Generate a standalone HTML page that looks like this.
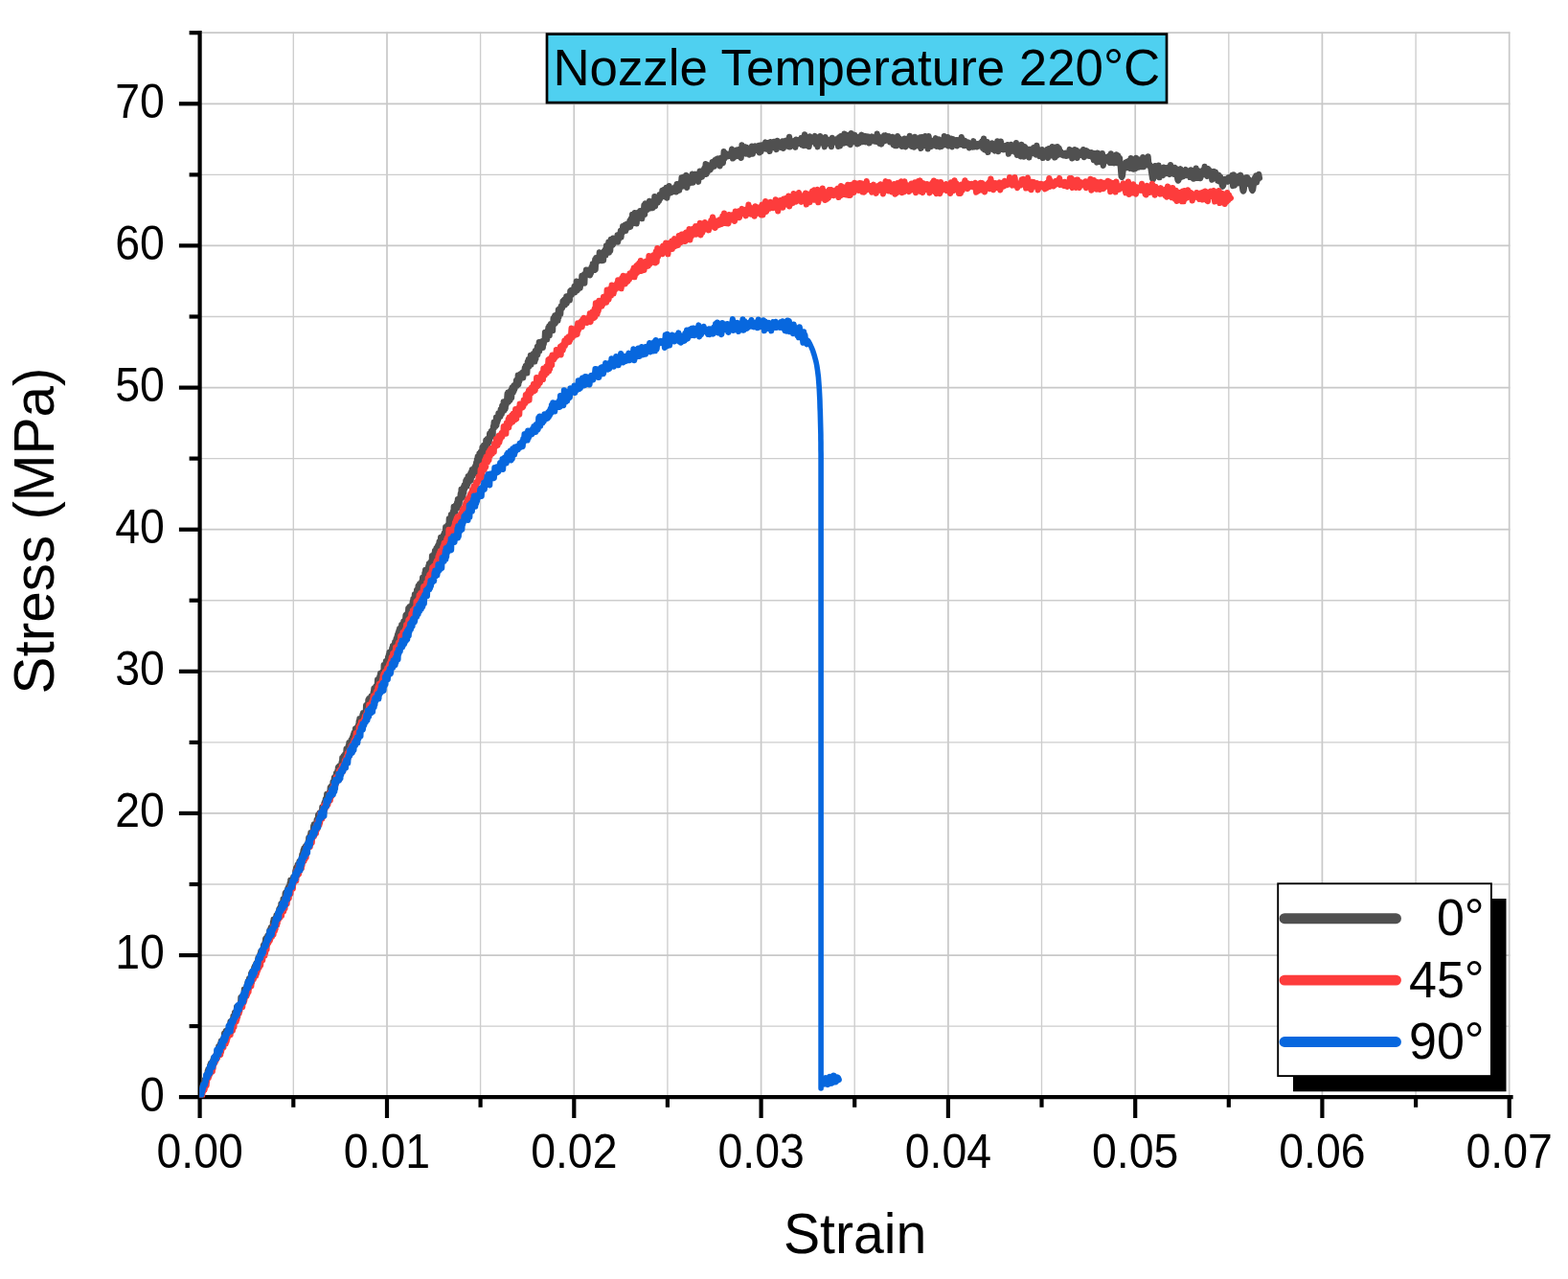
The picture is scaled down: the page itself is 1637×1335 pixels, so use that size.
<!DOCTYPE html>
<html lang="en"><head><meta charset="utf-8"><title>Stress-Strain: Nozzle Temperature 220°C</title>
<style>html,body{margin:0;padding:0;background:#fff;overflow:hidden}svg{display:block}</style></head>
<body>
<svg width="1637" height="1335" viewBox="0 0 1637 1335" role="img" aria-label="Stress-strain curves at nozzle temperature 220°C" font-family="'Liberation Sans', sans-serif" fill="#000">
<rect width="1637" height="1335" fill="#fff"/>
<g fill="none"><line x1="306.3" y1="33.5" x2="306.3" y2="1145.2" stroke="#cdcdcd" stroke-width="1.35"/><line x1="404.0" y1="33.5" x2="404.0" y2="1145.2" stroke="#c8c8c8" stroke-width="1.7"/><line x1="501.6" y1="33.5" x2="501.6" y2="1145.2" stroke="#cdcdcd" stroke-width="1.35"/><line x1="599.3" y1="33.5" x2="599.3" y2="1145.2" stroke="#c8c8c8" stroke-width="1.7"/><line x1="696.9" y1="33.5" x2="696.9" y2="1145.2" stroke="#cdcdcd" stroke-width="1.35"/><line x1="794.6" y1="33.5" x2="794.6" y2="1145.2" stroke="#c8c8c8" stroke-width="1.7"/><line x1="892.2" y1="33.5" x2="892.2" y2="1145.2" stroke="#cdcdcd" stroke-width="1.35"/><line x1="989.9" y1="33.5" x2="989.9" y2="1145.2" stroke="#c8c8c8" stroke-width="1.7"/><line x1="1087.5" y1="33.5" x2="1087.5" y2="1145.2" stroke="#cdcdcd" stroke-width="1.35"/><line x1="1185.2" y1="33.5" x2="1185.2" y2="1145.2" stroke="#c8c8c8" stroke-width="1.7"/><line x1="1282.8" y1="33.5" x2="1282.8" y2="1145.2" stroke="#cdcdcd" stroke-width="1.35"/><line x1="1380.4" y1="33.5" x2="1380.4" y2="1145.2" stroke="#c8c8c8" stroke-width="1.7"/><line x1="1478.1" y1="33.5" x2="1478.1" y2="1145.2" stroke="#cdcdcd" stroke-width="1.35"/><line x1="1575.7" y1="33.5" x2="1575.7" y2="1145.2" stroke="#c8c8c8" stroke-width="1.7"/><line x1="208.7" y1="1071.1" x2="1576.4" y2="1071.1" stroke="#cdcdcd" stroke-width="1.35"/><line x1="208.7" y1="997.1" x2="1576.4" y2="997.1" stroke="#c8c8c8" stroke-width="1.7"/><line x1="208.7" y1="923.0" x2="1576.4" y2="923.0" stroke="#cdcdcd" stroke-width="1.35"/><line x1="208.7" y1="848.9" x2="1576.4" y2="848.9" stroke="#c8c8c8" stroke-width="1.7"/><line x1="208.7" y1="774.9" x2="1576.4" y2="774.9" stroke="#cdcdcd" stroke-width="1.35"/><line x1="208.7" y1="700.8" x2="1576.4" y2="700.8" stroke="#c8c8c8" stroke-width="1.7"/><line x1="208.7" y1="626.7" x2="1576.4" y2="626.7" stroke="#cdcdcd" stroke-width="1.35"/><line x1="208.7" y1="552.7" x2="1576.4" y2="552.7" stroke="#c8c8c8" stroke-width="1.7"/><line x1="208.7" y1="478.6" x2="1576.4" y2="478.6" stroke="#cdcdcd" stroke-width="1.35"/><line x1="208.7" y1="404.6" x2="1576.4" y2="404.6" stroke="#c8c8c8" stroke-width="1.7"/><line x1="208.7" y1="330.5" x2="1576.4" y2="330.5" stroke="#cdcdcd" stroke-width="1.35"/><line x1="208.7" y1="256.4" x2="1576.4" y2="256.4" stroke="#c8c8c8" stroke-width="1.7"/><line x1="208.7" y1="182.4" x2="1576.4" y2="182.4" stroke="#cdcdcd" stroke-width="1.35"/><line x1="208.7" y1="108.3" x2="1576.4" y2="108.3" stroke="#c8c8c8" stroke-width="1.7"/><line x1="208.7" y1="34.2" x2="1576.4" y2="34.2" stroke="#c8c8c8" stroke-width="1.7"/></g>
<g stroke="#000" stroke-width="4.2" fill="none"><line x1="208.6" y1="32.0" x2="208.6" y2="1167.0"/><line x1="186.9" y1="1145.2" x2="1579.6" y2="1145.2"/><line x1="306.3" y1="1145.2" x2="306.3" y2="1155.8"/><line x1="404.0" y1="1145.2" x2="404.0" y2="1167.0"/><line x1="501.6" y1="1145.2" x2="501.6" y2="1155.8"/><line x1="599.3" y1="1145.2" x2="599.3" y2="1167.0"/><line x1="696.9" y1="1145.2" x2="696.9" y2="1155.8"/><line x1="794.6" y1="1145.2" x2="794.6" y2="1167.0"/><line x1="892.2" y1="1145.2" x2="892.2" y2="1155.8"/><line x1="989.9" y1="1145.2" x2="989.9" y2="1167.0"/><line x1="1087.5" y1="1145.2" x2="1087.5" y2="1155.8"/><line x1="1185.2" y1="1145.2" x2="1185.2" y2="1167.0"/><line x1="1282.8" y1="1145.2" x2="1282.8" y2="1155.8"/><line x1="1380.4" y1="1145.2" x2="1380.4" y2="1167.0"/><line x1="1478.1" y1="1145.2" x2="1478.1" y2="1155.8"/><line x1="1575.7" y1="1145.2" x2="1575.7" y2="1167.0"/><line x1="197.6" y1="1071.1" x2="208.6" y2="1071.1"/><line x1="186.9" y1="997.1" x2="208.6" y2="997.1"/><line x1="197.6" y1="923.0" x2="208.6" y2="923.0"/><line x1="186.9" y1="848.9" x2="208.6" y2="848.9"/><line x1="197.6" y1="774.9" x2="208.6" y2="774.9"/><line x1="186.9" y1="700.8" x2="208.6" y2="700.8"/><line x1="197.6" y1="626.7" x2="208.6" y2="626.7"/><line x1="186.9" y1="552.7" x2="208.6" y2="552.7"/><line x1="197.6" y1="478.6" x2="208.6" y2="478.6"/><line x1="186.9" y1="404.6" x2="208.6" y2="404.6"/><line x1="197.6" y1="330.5" x2="208.6" y2="330.5"/><line x1="186.9" y1="256.4" x2="208.6" y2="256.4"/><line x1="197.6" y1="182.4" x2="208.6" y2="182.4"/><line x1="186.9" y1="108.3" x2="208.6" y2="108.3"/><line x1="197.6" y1="34.2" x2="208.6" y2="34.2"/></g>
<clipPath id="pc"><rect x="208.1" y="33" width="1368" height="1112.6"/></clipPath>
<g clip-path="url(#pc)">
<path d="M208.5 1145.2l0.3-1.5l0.2-0.4l0.3 1.9l0.3-4.2l0.2 1.2l0.3-3.8l0.3 1.4l0.3-5l0.3 2.6l0.2-2.2l0.3 1.7l0.3-2.5l0.3 0.2l0.3-3.9l0.3 1.8l0.3-2.5l0.3 2.1l0.3-4.9l0.3 2.8l0.3-2.8l0.3 0.6l0.3-1.7l0.3 1.4l0.3-3.2l0.4 2.9l0.3-6.2l0.3 3.5l0.3-6.4l0.3 5.3l0.4-7.4l0.3 5.8l0.3-5.4l0.3 1.4l0.4-2l0.3 2l0.3-6.2l0.4 6.4l0.3-8.1l0.4 6.7l0.3-7.1l0.3 3.2l0.4-4l0.3 0.7l0.4-2.7l0.3 3.2l0.4-5.1l0.4-0.4l0.4-0.9l0.3 0.2l0.4-0.2l0.4 3l0.4-3.5l0.4-1.4l0.4-1.4l0.4-0.8l0.4-2.9l0.4 2.7l0.4-3.6l0.4 1l0.4-4.6l0.4 4.1l0.4-4l0.4-0.8l0.5-2.2l0.4 5.9l0.4-8.3l0.4 4.9l0.4-2.5l0.4-0.6l0.5-3.7l0.4 2.2l0.4-2.8l0.4 2l0.4-7.6l0.4 2.7l0.5-2.7l0.4 6.6l0.4-9.1l0.4 4.7l0.4-5.3l0.4 2.1l0.4-1.2l0.4 2.3l0.4-3.9l0.4 4.8l0.4-4.7l0.4 2l0.4-7.2l0.3 4.8l0.4-8.1l0.4 5.1l0.4-2.2l0.3 1.8l0.4-6l0.4 5.2l0.4-5.5l0.3 1l0.4-5.2l0.4 2.3l0.3-2.9l0.4 6.9l0.4-10.1l0.3 4.4l0.4-3.5l0.3 5.9l0.4-6l0.4-0.2l0.3-6.5l0.4 5.8l0.3-2.7l0.4 1.7l0.4-2.2l0.3 1.4l0.4-5.6l0.3 3.3l0.4-3.7l0.3 0.7l0.4-2.4l0.3 4l0.4-10.2l0.3 6.5l0.4-6.5l0.3 3.7l0.4-1.9l0.3 0.4l0.4-2.3l0.3 0.3l0.4-1.4l0.3-1.4l0.4-5.7l0.3 5.3l0.4-1l0.3-0.6l0.4-3.8l0.3 2.8l0.4-3.8l0.3 3.4l0.3-4.8l0.4 2.4l0.3-6.4l0.4 2.8l0.3-5l0.4 8.1l0.3-7.5l0.4-3.3l0.3-0.3l0.3 4.9l0.4-4l0.3 3.3l0.4-4.8l0.3-4.3l0.4-1l0.3 8.7l0.3-6.4l0.4 3.4l0.3-6.3l0.4 4l0.3-4.1l0.4 1.8l0.3-6.2l0.4 1.8l0.3-3.3l0.4 2.7l0.3-2.4l0.3 2.6l0.4-4.3l0.3-2l0.4-0.6l0.3 2.7l0.4-3.3l0.3 1.7l0.4-5.6l0.3 3.5l0.4-0.3l0.3-3.9l0.4-1.9l0.3 2.5l0.4-4.1l0.3 3.8l0.4-6.5l0.3 4.7l0.4-3.1l0.4 1.6l0.3-4.2l0.4 1.4l0.3-1.8l0.4-0.8l0.3-4.4l0.4 1.9l0.3-0.7l0.4 2.4l0.3-6l0.4 4.5l0.3-8.6l0.4 6.2l0.3-7l0.4 3.9l0.4-3.1l0.3 2l0.4-5.1l0.3 5.8l0.4-6.8l0.3 4.8l0.4-3.8l0.3 1.7l0.4-7.5l0.3 3.2l0.4-4.2l0.4 5l0.3-6.9l0.4 3.7l0.3-3l0.4 0l0.3-1.9l0.4 3.7l0.3-8.3l0.4 8.4l0.3-11.1l0.4 6.7l0.4-6.8l0.3 6.1l0.4-6.7l0.3 3.6l0.4-4.8l0.3 0.6l0.4-3.1l0.3 5.3l0.4-6.1l0.3 1.3l0.4-0.5l0.4 0.7l0.3-3.6l0.4 5.1l0.3-8.4l0.4 3.2l0.3-4.1l0.4 3.6l0.3-5.2l0.4 4.3l0.3-7.6l0.4 4.8l0.4-5.6l0.3 5l0.4-4.9l0.3 0.1l0.4-4.4l0.3 4.6l0.4-4.6l0.3 1.8l0.4-2.8l0.3 0.8l0.4-5.7l0.3 6.6l0.4-7.7l0.4 5.7l0.3-6.2l0.4 2.9l0.3-4.4l0.4-0.9l0.3-1.6l0.4 7.6l0.3-8.9l0.4-0.2l0.3-0.4l0.4 3.8l0.3-6.8l0.4 6.6l0.3-9.9l0.4 2.4l0.3 0l0.4 1.6l0.4-4.6l0.3 6.3l0.4-6.3l0.3 0.8l0.4-3.5l0.3 3l0.4-2l0.3 3.2l0.4-5.9l0.3 3l0.4-7.5l0.3 4.5l0.4-7.4l0.3 5.7l0.4-6.8l0.3 6l0.4-4.3l0.3-4.1l0.4 2l0.3 0.4l0.4-0.5l0.3 0.5l0.4-6l0.3 5.3l0.4-3.4l0.3-2.5l0.4-0.5l0.3 4.9l0.4-5.1l0.3-1.3l0.4-4.4l0.3 3.2l0.4-4l0.3-1.9l0.4-2.5l0.3 5.7l0.4-7.2l0.3 3.6l0.4 1.4l0.3-2.4l0.4-4.3l0.3 5.8l0.4-2.5l0.3-0.1l0.4-5l0.3 4.3l0.4-4.6l0.3 2.8l0.4-5.8l0.3 2.4l0.4-6.7l0.3 8.6l0.4-6.1l0.3-0.1l0.4-4.5l0.3 4.1l0.4-7.2l0.3 3.1l0.4-1.5l0.3 0.9l0.4-1.3l0.3-0.4l0.4-2l0.3 1l0.4-6.9l0.3 6.2l0.4-7.9l0.3 6.3l0.4-3.1l0.3 0.1l0.4-1.6l0.3 2.6l0.4-5.1l0.3-0.4l0.4-3.6l0.4 2.9l0.3-1.7l0.4 0.2l0.3-6.3l0.4 6.2l0.3-3.3l0.4-0.5l0.3-4.5l0.4 4.4l0.3-1.7l0.4 3.6l0.3-7.2l0.4 3.8l0.3-2.9l0.4 0.3l0.3-6.4l0.4 2.3l0.3-1.8l0.4 2.3l0.3-3.8l0.4 2.2l0.3-5.3l0.4 1.9l0.3-3.4l0.4 2.4l0.3-5l0.4 5.5l0.3-6.5l0.4 4l0.3-8.4l0.4 9.4l0.3-3.7l0.4-1.1l0.3-4l0.4 0.1l0.3-1.5l0.4-0.5l0.3-1.3l0.4 3.9l0.3-8l0.4 6.2l0.3-7.1l0.3 1.8l0.4-2.5l0.3 5l0.4-3.8l0.3 1.4l0.4-7l0.3 3.8l0.4-3.4l0.3 0.9l0.4-5.8l0.3 2.9l0.4-3.2l0.3 7l0.4-8.4l0.3 2.4l0.4-5.1l0.3 3.8l0.4-3.6l0.3 2.4l0.4-5.4l0.3-1.3l0.4-2.5l0.3 9.1l0.4-7l0.3 2.6l0.4-6l0.3 2.9l0.4-0.2l0.3-0.7l0.4-2.3l0.4 2.6l0.3-5.9l0.4 2.3l0.3-7.1l0.4 4.8l0.3-2.5l0.4 2.1l0.3-6.3l0.4 7.6l0.3-6.7l0.4 4.4l0.3-6.9l0.4 3.5l0.4 1l0.3-5.5l0.4-4.9l0.3 5.8l0.4-3.7l0.3 2.3l0.4 1.1l0.4-5.6l0.3-3l0.4 3.3l0.3-6.6l0.4 4.7l0.3-3.4l0.4 2.2l0.4-3.4l0.3 2.7l0.4-5.5l0.4 4.1l0.3-5.1l0.4 1.1l0.3-3l0.4 4.3l0.4-6.7l0.3 5.3l0.4-7.5l0.4 4.3l0.3-3.8l0.4 3.2l0.4-7.9l0.3 2.6l0.4-3.2l0.4 3.4l0.3-3l0.4 1.2l0.4-1.9l0.4-1.8l0.3-1.2l0.4 1.7l0.4-5.7l0.3 5l0.4-7.6l0.4 7l0.4-5.1l0.3 2l0.4-1.4l0.4 1.7l0.3-5.3l0.4 3l0.4-6.1l0.4 2.7l0.3-4.5l0.4 3.1l0.4-2l0.4-0.5l0.3-1.1l0.4-0.1l0.4-1.3l0.4 1.1l0.3-7.1l0.4 6.9l0.4-7.6l0.4 3.4l0.3-2l0.4 2.7l0.4-9l0.4 4l0.4-5.7l0.3 3.8l0.4-0.4l0.4 0.3l0.4-2.7l0.3-0.6l0.4-2.9l0.4 3.9l0.4-3l0.3 3.7l0.4-5.4l0.4 0.6l0.4-3.8l0.3-0.3l0.4-3.7l0.4 1l0.3-1.7l0.4 1.4l0.4-1.7l0.4 1.1l0.3-2.6l0.4 1.1l0.4-1.7l0.4-0.9l0.3-5.1l0.4 5l0.4-3.6l0.3-0.3l0.4 0.9l0.4-0.5l0.3-4.9l0.4 4.6l0.4-7.8l0.3 6l0.4-6.2l0.4 6.2l0.3-5.9l0.4 3.4l0.4-4.9l0.3 2.8l0.4-2.4l0.4-0.1l0.3-7.6l0.4 7.2l0.4-5.7l0.3 2.5l0.4-2.9l0.3 1l0.4-6.1l0.4 3.2l0.3-3.4l0.4 0.5l0.3 0.1l0.4 3.4l0.4-8l0.3 3.5l0.4-5.7l0.3 4.9l0.4-7.8l0.3 7.2l0.4-7.5l0.3 2.4l0.4-2l0.4 4.5l0.3-6.4l0.4-1.5l0.3-1.3l0.4 1.8l0.3-3.8l0.4 5.3l0.3-4.7l0.4 5l0.3-6.7l0.4 1l0.4-3.9l0.3 1.4l0.4-0.7l0.3-0.4l0.4-3.7l0.3 4.2l0.4-5.9l0.3 2.6l0.4-5.1l0.3 1.8l0.4-3.9l0.3 6.3l0.4-8.5l0.3 4.1l0.4-6.3l0.3 6.8l0.4-5.6l0.4 5.4l0.3-7.6l0.4 6.3l0.3-9.2l0.4 4.3l0.3-3.9l0.4 1l0.3 0.8l0.4 1l0.3-6.7l0.4 1.5l0.4-1.6l0.3-0.4l0.4-1.6l0.3 0.3l0.4-4.6l0.3 5.9l0.4-6.8l0.3 1.3l0.4 0.7l0.4 1.2l0.3-4.8l0.4-0.1l0.3-4.9l0.4 6.9l0.4-7.2l0.3 2.4l0.4-3.9l0.3 4.6l0.4-3.8l0.4 2l0.3-1.9l0.4 1.1l0.3-3.4l0.4 0.2l0.4-3.7l0.3 1.4l0.4-4.4l0.4 3l0.3-2.1l0.4 2.4l0.4-8l0.3 8.3l0.4-6.5l0.4 2.5l0.3-4.4l0.4-0.1l0.4-4.4l0.4 6.9l0.3-6.4l0.4 1.2l0.4-5.9l0.3 6.7l0.4-7.1l0.4 5.2l0.4-7l0.3 4.2l0.4-1.9l0.4 3.7l0.4-5.1l0.4 1.4l0.3-4.8l0.4 3.8l0.4-7.9l0.4 8l0.3-5.5l0.4 0.6l0.4-3.4l0.4 5.1l0.4-9.6l0.3 4.7l0.4-7.8l0.4 6.9l0.4-3.9l0.4 3.6l0.3-6.6l0.4 3.7l0.4-4.3l0.4 2.3l0.4-5.5l0.4 5.7l0.3-8.5l0.4 5.8l0.4-3.1l0.4-0.7l0.4-3.4l0.3 5.3l0.4-6.3l0.4 4.3l0.4-10.1l0.4 6.1l0.3-4.5l0.4 2.3l0.4-3l0.4 3.3l0.4-6.5l0.3 2.2l0.4-5.1l0.4 4.9l0.4-2.5l0.4-0.7l0.3-4.5l0.4 5.4l0.4-5.2l0.4 2l0.4-4.6l0.3 6l0.4-7.4l0.4 2.8l0.4-5.8l0.3 5.3l0.4-5.4l0.4 2l0.4-6.3l0.3 4.5l0.4-1.2l0.4 1.8l0.4-3l0.3 2l0.4-5.5l0.4 4.2l0.3-5.4l0.4 2.3l0.4-4.3l0.3 1.4l0.4-2.5l0.4 5.2l0.3-10.4l0.4 4.6l0.4-3.9l0.3 4.7l0.4-4.5l0.4 0.2l0.3-3.1l0.4 2.2l0.3-1.6l0.4 1.1l0.3-8.3l0.4 7.8l0.3-3.7l0.4-4l0.3 0.4l0.4 1.4l0.3-6.2l0.4 6.3l0.3-5.3l0.4 0.5l0.3-2.3l0.4 1.7l0.3-4.2l0.4 5.1l0.3-10.1l0.4 6.5l0.3-5.6l0.3 5.2l0.4-4.7l0.3 3.8l0.4-6.7l0.3 2.5l0.4-3l0.3-0.5l0.4-2.4l0.4 6.2l0.3-9.1l0.4 4.5l0.3-4.3l0.4 6.3l0.3-7.2l0.4 5.6l0.4-6.6l0.3 1l0.4-5l0.4 5.3l0.4-10.1l0.3 8l0.4-0.1l0.4 1l0.4-7.7l0.4 6.1l0.4-9.5l0.4 5.8l0.4-7.8l0.4 4.4l0.4-4.2l0.4 2l0.4-6.7l0.4 6.1l0.4-7.5l0.4 7.2l0.4-4.7l0.4 2.5l0.4-8.2l0.4 4.9l0.5-5l0.4 5.7l0.4-6.9l0.4 4.1l0.4-5.8l0.5 7.2l0.4-9l0.4 3.1l0.4-5.4l0.4 7l0.5-7.2l0.4 2.5l0.4-3.1l0.4 2.8l0.4-4.3l0.5 6.2l0.4-7.8l0.4 2.5l0.4-5.5l0.4 4.4l0.4-7.9l0.4 4.6l0.4-7.7l0.5 8.3l0.4-7.2l0.4 2.3l0.4-6.6l0.4 7.7l0.4-4.4l0.3 3.3l0.4-8.3l0.4 8.3l0.4-5l0.4-1.7l0.4-6.4l0.4 4.8l0.4-2.1l0.4 5l0.3-9.8l0.4 5.5l0.4-4.2l0.4 4.9l0.4-2.8l0.4-1.1l0.3-7.5l0.4 10.3l0.4-10.7l0.4-0.9l0.4 2.2l0.3 3.9l0.4-5.9l0.4 4.1l0.4-5.6l0.4 4.1l0.3-8.5l0.4 5.4l0.4-3.3l0.4 0.8l0.4-5.1l0.3 3.1l0.4-3.9l0.4 5.6l0.4-5.8l0.4 5.9l0.3-10.2l0.4 1.2l0.4-5.7l0.4 6l0.4-1l0.4-0.3l0.4-4.3l0.3 3.8l0.4-9.1l0.4 8l0.4-4.6l0.4 1.9l0.4-4.2l0.4 1.9l0.4-7.4l0.3 3.4l0.4-2l0.4 2.4l0.4-3.8l0.4 3.8l0.4-7.7l0.3 4.6l0.4-4.8l0.4 4.8l0.4-8.5l0.4 5.1l0.4-2.1l0.3 0.2l0.4-7.4l0.4 9.5l0.4-4.4l0.4 3l0.4-5.5l0.4 4.7l0.4-5.7l0.4 1.7l0.4-4.2l0.3-1.9l0.4-5.3l0.4 5.6l0.4-7.3l0.4 10l0.4-5.6l0.5 2.6l0.4-7.7l0.4 8.7l0.4-7.9l0.4 6.2l0.4-8.9l0.4 8.1l0.5-10.5l0.4 6.2l0.4-4.7l0.4 3.9l0.5-7.2l0.4 5.3l0.5-6.1l0.4 3.7l0.5-4.4l0.4 1.4l0.5-5.6l0.4 6l0.5-6.9l0.5 4.1l0.4-8.7l0.5 9.9l0.5-7.7l0.5 4.5l0.5-4.5l0.5 0.4l0.5-4l0.5 3.8l0.4-2.6l0.5 2.7l0.5-5.5l0.5 5.9l0.6-6.6l0.5 2.3l0.5-6l0.5 2.3l0.5-4.5l0.5 3.6l0.5-4.2l0.5 8l0.5-11.7l0.5 5.9l0.5-8.3l0.6 7.4l0.5-6.9l0.5 4.6l0.5-9.4l0.5 9.6l0.5-10l0.5 4.5l0.5-1.9l0.5 1.8l0.5-5.7l0.5 5.5l0.5-1.4l0.5 4.1l0.5-11.4l0.5 8.5l0.5-7.1l0.5 3.2l0.5-8.7l0.4 8.4l0.5-4.3l0.5-0.3l0.5-8.5l0.4 9.4l0.5-6.4l0.4 2.1l0.5-2.5l0.4 0.3l0.5-3.7l0.4 2.5l0.5 0.9l0.4 3.2l0.5-7.3l0.4 3.7l0.4-3.1l0.5-0.3l0.4-9.1l0.4 7.3l0.5-2.3l0.4 2.7l0.4-7.9l0.5 7.5l0.4-4.9l0.4-1.9l0.4-5.3l0.5 4.9l0.4-6.6l0.4 9.6l0.4-8.9l0.5 4.1l0.4-7.1l0.4 5.4l0.4-5.6l0.5 4.8l0.4-5.2l0.4 7.6l0.5-12.7l0.4 6.6l0.4-7.7l0.5 5.8l0.4-7.8l0.5 7.9l0.4-5.8l0.4 2.3l0.5-5.3l0.5 3l0.4-0.8l0.5 4.1l0.4-11.3l0.5 7.7l0.4-8.4l0.5 4.8l0.4-3.3l0.5 3.8l0.5-8.5l0.4 3.2l0.5-2.1l0.5 1.1l0.4-7.2l0.5 2.3l0.5-3.4l0.4 5.4l0.5-6.1l0.5 5.8l0.5-4.6l0.4 0.3l0.5-4.8l0.5 7.2l0.5-5.9l0.5 0.4l0.5-0.3l0.5-2.5l0.5 2l0.5 3.2l0.5-9.7l0.5 4.8l0.6-5.7l0.5 4.8l0.5-3.6l0.5-0.2l0.6 0.8l0.5-1.4l0.6-4.5l0.5 6.6l0.6-6.2l0.5 3.1l0.6-8.6l0.6 9.7l0.5-7.2l0.6 5.8l0.5-2.2l0.6-0.2l0.6-3.8l0.5 4.9l0.6-5.3l0.6 0.6l0.5-8.2l0.6 4.7l0.6-3.1l0.6 3.3l0.5-6.2l0.6 9.1l0.5-9.9l0.6 1.3l0.6-5.3l0.5 4l0.6-3.9l0.6 3.1l0.6-3.3l0.5 2.4l0.6-1.5l0.6 4.9l0.5-1.6l0.6-1l0.6-6.2l0.6 3.8l0.5-7l0.6 3.4l0.6-4l0.6 7.2l0.6-11.1l0.5 10.1l0.6-12l0.6 3.7l0.6-1.1l0.6 0.6l0.6-1.8l0.5 2.2l0.6-9.3l0.6 4.3l0.6-1l0.6 3l0.6-4l0.6 6.5l0.6-5.6l0.6 5.5l0.6-9.7l0.6 4.9l0.6-6.5l0.6 5.8l0.6-10.1l0.6 4.5l0.6 0.3l0.6-1.3l0.6-7.3l0.6 11l0.6-4.9l0.6 3.2l0.6-12.1l0.5 6.4l0.6-1.5l0.6 1.3l0.6-7.3l0.5 5.9l0.6-3.5l0.6 1.7l0.5-1.4l0.6-0.6l0.5-1.3l0.6 1.2l0.6-5.4l0.5 7.3l0.6-5.8l0.5 2.9l0.6-5.3l0.5 1.2l0.6-4.7l0.6 6.8l0.5-6.4l0.6 1.8l0.6-7l0.6 5.9l0.6-3l0.6-0.1l0.6-4.4l0.6 6.5l0.6-4.3l0.6-2.7l0.6 1.2l0.6 2.6l0.6-4.3l0.7 2.6l0.6-5.7l0.6 6.6l0.7-8.7l0.6 3.8l0.7-8.2l0.6 9.4l0.7-8.6l0.6 5.2l0.7-7.8l0.6 5.1l0.7-2.4l0.7 8.5l0.7-11.3l0.6 6.4l0.7-6l0.7 2.4l0.7-4.7l0.7 4.4l0.8-4.1l0.7 7.8l0.7-8.5l0.7 4.8l0.7-10.4l0.7 9.6l0.7-11.3l0.8 4.8l0.7-2.1l0.7 3.8l0.7-1.4l0.6-2.5l0.7-5.2l0.7 7.7l0.7-1.1l0.7-1.8l0.6-4.2l0.7 6.8l0.7-4.6l0.6 1.5l0.7-9.1l0.6 10.3l0.7-8.8l0.7 2.7l0.6-2.7l0.7 5.2l0.6-4.8l0.7 3.1l0.7-6.8l0.6 4.3l0.7-4.5l0.7 2.7l0.7-6.9l0.7 4.6l0.7-5.2l0.7 2l0.7-0.8l0.7 6.2l0.7-9.7l0.8 10.7l0.7-9.7l0.8 2.4l0.7-5.3l0.8 7.7l0.8-5l0.8 4.3l0.8-4.5l0.8 2.2l0.8-1.5l0.8 2.7l0.9-5l0.8 5.6l0.8-8.5l0.8 1.9l0.8-1.6l0.9 6.5l0.8-7.6l0.8 4.1l0.8-10l0.8 9.4l0.8-9.8l0.8 6.1l0.8-1.1l0.8-0.9l0.8-6.2l0.8 13.1l0.8-5.4l0.8-0.7l0.8-5.2l0.8 6.6l0.8-4.6l0.8 2.1l0.8-7.1l0.7 9.1l0.8-7.7l0.8 3.4l0.8-4.7l0.8 5.8l0.8-5l0.8 3l0.8 4.3l0.7-8.4l0.8-2.7l0.8 5.8l0.7-5.9l0.8 6.2l0.8-5.8l0.7 2.4l0.8-5.7l0.7 4.1l0.8-8.7l0.7 10.8l0.8-10.1l0.7 7.6l0.7-4.3l0.7 1.1l0.7-1.4l0.7 2.4l0.7-3.4l0.6 1.3l0.7-6.1l0.7 3.9l0.7-4l0.7 4.8l0.7-6.6l0.7 4.2l0.7-5.1l0.7 4.3l0.8-5l0.7 3.1l0.8-2.1l0.8 6.8l0.8-8.4l0.8 4.6l0.8-4.9l0.8 5.5l0.8-12.1l0.8 7.4l0.9-5.5l0.8 3.9l0.9-1.2l0.8 0.6l0.9-2.3l0.8 1.8l0.8-2l0.9 0l0.8-5.1l0.9 9.9l0.8-6.2l0.9 4.8l0.9-2.1l0.8-0.6l0.9-4.9l0.9 6.5l0.9-4.4l0.8-2.7l0.9 1.5l0.9 7.6l0.8-13.6l0.9 7.5l0.9-5.1l0.8 2.8l0.9-3.3l0.9 7.4l0.8-6.8l0.9 1.3l0.9 3.5l0.9 2.8l0.8-5.9l0.9 4.2l0.9-7.2l0.9 8l0.8-4.2l0.9-0.5l0.9-3.5l0.9 4.8l0.8-4.6l0.9 4.5l0.9-5.1l0.9 7.5l0.9-8l0.8 6.9l0.9-7l0.9 1.5l0.9 0.8l0.9 0.8l0.9-6l0.9 7.2l0.9-4l0.9 0.9l0.9-3.6l0.9 9l0.9-10l0.9 5.1l0.9-3.2l0.9 2.1l0.9-4.1l0.9 6.8l0.8-4.8l0.9 6.1l0.9-9.2l0.9 4.6l0.9-0.9l0.9-0.7l0.9-0.4l0.9 4.7l0.9-6.7l0.9 7.5l0.9-6.5l0.9 3.8l0.8-5.7l0.9 4.6l0.9-3.3l0.9 5.2l0.9-10.2l0.9 10.7l0.9-3.1l0.9-1.9l0.8-0.8l0.9 0.5l0.9-1.1l0.9 6.7l0.9-8.3l0.9 5.2l0.9-4.5l0.9 3l0.8-3.2l0.9 4l0.9-6.1l0.9 7.5l0.9-7.6l0.9 8.4l0.9-11.8l0.9 8.7l0.9-4.2l0.9 7.1l0.9-6.4l0.9 7.6l0.9-10.9l0.9 6.6l0.9-2.4l0.9 0.8l0.9-3.9l0.9 2.6l0.9-4l0.9 8.6l0.9-3.9l0.9 6.6l0.9-9.4l0.9 5.7l0.9-7.5l0.9 7.3l0.9-4.9l0.9 4l0.9-1.7l0.9 6.5l0.9-10.2l0.9 7.6l0.9-5.5l0.9 4.9l0.9-3l0.9 0.8l0.9-2.1l0.9 7.4l0.9-9.3l0.9 3.6l0.9 1.3l0.9-1.4l0.9-1.2l0.9-1l0.9 0.2l0.9 7.6l0.9-9.7l0.9 9.1l0.9-10.2l0.9 5.5l0.9-3.2l0.9 5.2l0.9-10l0.9 9.5l0.9-8.7l0.9 8.4l0.9-7.9l0.9 8.8l0.9-4.4l0.9 5.7l0.9-12.1l0.9 7.4l0.9-6l0.9 6.5l0.9-6l0.9 7.8l0.9-4.6l0.9 6.4l0.9-6l0.9 5.1l0.9-7.2l0.9 3.3l0.9-5l0.9 7.4l0.9-1.9l0.9 1.5l0.9-5.7l0.9 6.3l0.9-5.9l0.9 5.8l0.9-5.6l0.9 6.9l0.9-5.2l0.9 3.4l0.9-5.2l0.9 4.5l0.9-2.6l0.9 3.1l0.9-3.4l0.9 3.8l0.9-8.4l0.9 8.8l0.9-5.8l0.9 7.4l0.9-3.8l0.9 4.4l0.9-4l0.9 0.5l0.9-5.5l0.9 5.8l0.9-6.1l0.9 3.4l0.8 0l0.9 0.6l0.9-3l0.9 6.3l0.9-0.8l0.9-0.7l0.9-4.2l0.9 8.3l0.9-7.5l0.9 8.5l0.9-4.6l0.9 4.7l0.9-10l0.9 3.6l0.9-1.2l0.9 4.1l0.9-3l0.9 7.2l0.9-7.2l0.9 6.9l0.9-8.1l0.9 8.8l0.9-4.7l0.9 1.3l0.9-5.6l0.9 7.1l0.9-9.5l0.9 8.3l0.9 2.5l0.9-1.8l0.9-4.3l0.9 7.1l0.9-10.9l0.9 7.4l0.9-5.3l0.9 1.1l0.9-0.7l0.9 7.5l0.9-9.5l0.9 11.7l0.9-11.8l0.9 9.6l0.9-5.5l0.9 2.5l0.9-7.6l0.9 3.5l0.9 1.5l0.9 8.1l0.9-13.3l0.9 8.7l0.9-2.5l0.9 4.8l0.9-4.7l0.9 3.5l0.9-5.3l0.9 3.3l0.9-5.6l0.9 8.6l0.9-4l0.9 0l0.9-3.4l0.9 8l0.9-6.6l0.9 6.1l0.9-2.9l0.9 1l0.9-8.8l0.9 9l0.9-5.3l0.9 5.7l0.9-8.5l0.9 9.3l0.9-3.6l0.9 3.3l0.9-7.4l0.9 8.6l0.9-8.1l0.9 5.3l0.9-3.5l0.9 2.5l0.9-3.4l0.9 6.3l0.9-6.2l0.9 4.1l0.9-3.2l0.9 3.8l0.9-7.8l0.8 7.6l0.9-2l0.9 3.5l0.9-5.5l0.9 4.1l0.9 1.1l0.9-1.5l0.9-1.9l0.9 5.9l0.9-3.2l0.9 0.9l0.9-1l0.9 2.4l0.9-6.3l0.9 6.2l0.9-2.1l0.9-0.2l0.9 2.3l0.9-3.2l0.9 2.5l0.9-1.6l0.9-1.8l0.9 2.9l0.9-4.8l0.9 7.5l0.9-10.3l0.9 11.6l0.9-6.4l0.9 7.3l0.9-9.1l0.8 10.9l0.9-9l0.9 3.9l0.9-1.5l0.9 0.4l0.9-3.3l0.9 6.8l0.8-4l0.9 5.3l0.9-2.4l0.9 0.7l0.9-8.5l0.9 10.8l0.9-8.9l0.9 6.9l0.9-8.4l0.8 6.9l0.9-2.2l0.9 3.9l0.9-0.2l0.9-0.7l0.9-3.6l0.9 3.1l0.9-3.8l0.9 9.5l0.9-8.9l0.9 6.8l0.9-7.6l0.9 6.9l0.9-5.2l0.9 4.7l0.9-3.8l0.9 5.5l0.9-9.8l0.9 12.6l0.9-9.4l0.9 5.6l0.9-3.4l0.9 8.7l0.9-12.5l0.8 11.2l0.9-9.7l0.9 11.3l0.9-10.6l0.9 3.8l0.9-1.1l0.9 3.2l0.9-3.1l0.9 8.5l0.9-8.4l0.9 4.5l0.9-2.4l0.9 1.1l0.9-5l0.9 6.1l0.9-2.5l0.9 3.8l0.8-9.6l0.9 8.2l0.9-2.4l0.9 5.3l0.9-6.5l0.9 5.9l0.9-6.4l0.9 9l0.9-7.2l0.9 3.8l0.9-3.4l0.9 1.9l0.9-4.3l0.9 9l0.9-9.8l0.9 3.8l0.9 3.2l0.9 0.3l0.9-9.2l0.9 4.5l0.9-0.4l0.9 7.3l0.9-10.8l0.9 9.1l0.9-9.6l0.9 8.4l0.9-6.7l0.9 6.3l0.9-3l0.9 3.1l0.9 0.7l0.9 0.4l0.9-2l0.9-0.6l0.9 3l0.9-0.1l0.9-1.7l0.9 0.9l0.9-5.9l0.9 6.4l0.9-5.4l0.9 8.5l0.9-5.9l0.8 3.1l0.9-6.6l0.9 6.1l0.9-5.5l0.9 8.3l0.9-6.3l0.9 1.8l0.9-1.9l1 3.1l0.9-0.3l0.9-1.6l0.9-3.7l0.9 8l0.9-6.1l0.9 4.6l0.8-5.4l0.9 3.1l0.9-1.7l0.8 4.3l0.8-2.5l0.8-0.3l0.8-0.8l0.8 4.8l0.8-4.3l0.8 7.3l0.7-7.1l0.8 3.8l0.8 1.2l0.8 4.5l0.8-9.8l0.8 9.5l0.8-4.6l0.9 0.4l0.8-4.3l0.9 8.8l0.9-9.3l0.9 12.6l0.8-9.1l0.9 3.4l0.9-1.2l1 1.5l0.9-3.8l0.9 4.9l0.9-5.8l0.9 7.3l0.9-9.7l1 9.5l0.9 0l0.9 0.4l0.9-6.6l0.9 4.4l0.9-6.6l0.9 8.7l0.9-7.7l0.9 7.7l0.9-5.3l1.6 19.2l0.6 1l0.6-1l1.7-12.6l0.9 2.3l0.9-4.4l0.9 5.9l0.9-6.7l0.9 5.5l0.9-6.3l0.9 8.1l0.9-10.7l0.9 7.2l0.9-1.2l0.9 5.6l0.9-7.2l0.9 6.8l0.9-11.5l0.9 10l0.9-8.7l0.9 8.6l0.9-6.7l0.9 4.6l0.8 1.5l0.9-0.9l0.9-9.1l0.9 10l0.9-7.5l0.9 4.1l0.9-1.9l0.9 3.2l0.9-8.7l0.8 9.4l0.9-0.9l0.9 2.4l1.9 12.2l0.6 1l0.6-1l1.7-13.4l0.9 10.7l0.9-8.6l0.9 6l0.9-8.5l0.9 12.6l0.9-10l0.9 3.9l0.9-1.2l0.9 5.3l0.9-8.6l0.9 6.8l0.9-5.3l0.9 5.1l0.9-6.4l0.9 2.8l0.8-0.6l0.9 5l0.9-9.9l0.9 5.5l0.9-2.8l0.9 4.9l0.8 2.2l0.9-7l0.9 0.7l2 12l0.6 1l0.6-1l1.9-11.4l0.9 8.8l0.9-5.6l0.9 4.9l0.9-1l0.9-4.2l0.9-2.1l0.9 6.1l0.9-4.9l0.9 2.9l0.9-2.3l0.9 6.2l0.9-7.7l0.9 5.2l0.9-4l0.9 8.2l0.9-3.6l0.9 0.5l0.9-7.9l0.9 10.3l0.9-8.2l0.9 1.9l0.9-0.3l0.9 6.8l0.9-3.2l0.9-0.6l0.9-4.9l0.9 4.5l0.9-8.1l1 8.8l0.9-2.6l0.8 3.9l0.9-7.9l0.9 3.9l0.8-2.1l0.8 5.1l0.8-2.8l0.7 7.4l0.8-8.2l0.7 1.8l0.7-2.2l0.8 6.5l0.7-5.9l0.8 5.4l0.7-2.5l0.8 6.1l0.9-6.1l0.8 7l1-5.2l1.9 9.4l0.6 1l0.6-1l1.9-6.9l0.9 1.5l0.9 0.6l0.9 0.7l0.9-4.4l0.9 1.2l0.9-0.2l0.9 1.2l0.9-4.4l0.9 11.1l0.9-11.8l0.9 11.3l0.9-8l0.9 5l0.9-2.8l0.9 3.5l0.9-7.7l0.9 4.9l0.9-5.8l2.2 15.9l0.6 1l0.6-1l1.9-13.2l0.9 3.1l0.9-3.3l0.9 6.8l0.9-4.7l0.9 3.3l1.9 7.4l0.6 1l0.6-1l1.9-12.6l0.6 3.3l0.7-5.4l0.7 7.1l0.7-7.3l0.7 4.3l0.8-5.6l0.8 4.2" fill="none" stroke="#505050" stroke-width="6.2" stroke-linejoin="round" stroke-linecap="round"/>
<path d="M209.6 1145.1l0.3 1.9l0.3-5.9l0.3 3.2l0.3-5.9l0.3 5.6l0.4-4.1l0.3-0.9l0.3-1.7l0.3 1.6l0.3-3.4l0.3 0l0.4-1.5l0.3 3.4l0.3-4.4l0.3 0.6l0.4-2.7l0.3 1.7l0.3-0.7l0.3 1.3l0.4-5l0.3-2.5l0.3-2l0.4 1.7l0.3-0.6l0.4 0.4l0.3-4.2l0.3 2.9l0.4-5.8l0.3 3.8l0.4-2.9l0.3 1.6l0.4-3.9l0.3 0.2l0.4-1.7l0.3 2.6l0.4-3.4l0.3 3.9l0.4-8.2l0.3 5.1l0.4-5.3l0.3 1.8l0.4-3l0.4 0.2l0.3-1.8l0.4 1.8l0.4-3l0.4 1.3l0.3-6.6l0.4 4.4l0.4-1.1l0.4 0.5l0.4-5l0.4 1.8l0.4-3.2l0.4 2.1l0.3-0.7l0.4 0.8l0.4-5l0.5 5.6l0.4-10.3l0.4 7.5l0.4-4.8l0.4 1.8l0.4-3.3l0.4 2.3l0.4-7.3l0.4 6.5l0.4-5.1l0.4 1.4l0.4-2.2l0.4 2.3l0.4-5.6l0.4 5.2l0.5-7.1l0.4 4.9l0.4-5.8l0.4 2.9l0.4-3.8l0.4 1.6l0.4-4l0.4 0l0.4-0.1l0.4-1.4l0.4 0.4l0.3 3.2l0.4-8.7l0.4 5.8l0.4-8.5l0.4 7.6l0.4-7.1l0.3 6.4l0.4-8l0.4 4.5l0.4-3.8l0.3 3.9l0.4-6.7l0.4 0.1l0.4-0.8l0.3 1.7l0.4-7.8l0.4 7.4l0.3-6l0.4 4.2l0.4-9.5l0.3 7.3l0.4-3.6l0.4 0l0.3-7.1l0.4 6.5l0.3-4.8l0.4 2.9l0.4-7.9l0.3 4.8l0.4-2.2l0.3 0l0.4-2.3l0.4 2.9l0.3-2.7l0.4 2.7l0.3-9.8l0.4 5l0.3-3.9l0.4 3.9l0.4-2.4l0.3 0.2l0.4-3.5l0.3 0.8l0.4-3l0.3-0.2l0.4-4.4l0.3 6.1l0.4-3.9l0.3 2l0.4-2l0.3-1l0.4-4.9l0.3 5.1l0.4-6.6l0.3 2.9l0.4-3.1l0.3 0.2l0.4-3.3l0.3 3.6l0.4-4.4l0.3 4.6l0.4-6.4l0.3 3.2l0.4-7.8l0.3 2.6l0.4-1.7l0.3 3.3l0.4-5.4l0.3 4.5l0.4-5.4l0.3 2.9l0.4-1.8l0.3-1.7l0.4-0.4l0.3 3.5l0.4-6.7l0.3 4.5l0.4-7.2l0.3 4.8l0.4-8.2l0.3 6.7l0.4-5.5l0.3 3.7l0.4-4.7l0.3 4.1l0.4-6l0.3 3.3l0.4-4.7l0.3 4.9l0.4-6.2l0.3 1.5l0.4-3.3l0.3 3.2l0.4-4.9l0.3 4.2l0.4-10.4l0.3 7.7l0.4-3.1l0.3 1.6l0.4-6.4l0.4 6l0.3-10.8l0.4 7.8l0.3-7.3l0.4 2.1l0.3-3.6l0.4 5.4l0.3-7.3l0.4 2.8l0.3-3.9l0.4 2l0.3-5l0.4 4l0.3-1.3l0.4-2.5l0.3-1.5l0.4 3l0.3-3.9l0.4 1l0.4-3.8l0.3 3.5l0.4-3.5l0.3 2.9l0.4-8.5l0.3 4.7l0.4-7l0.3 8.7l0.4-5.5l0.3-0.4l0.4-0.4l0.3 2.6l0.4-8l0.3 6.2l0.4-4.2l0.3 0.6l0.4-2.9l0.3 2.5l0.4-7.6l0.3 5.1l0.4-6.9l0.3 2.6l0.4-5l0.3 5.3l0.4-2.8l0.3-0.3l0.4-2.6l0.4 3.6l0.3-3.3l0.4 0.1l0.3-3.2l0.4 4.9l0.3-7.3l0.4 1.7l0.3-4.5l0.4 2.3l0.3-1.7l0.4 5l0.3-7.6l0.4 1.5l0.3-3.9l0.4 6.6l0.3-6.1l0.4 1.5l0.3-6.7l0.4 1.5l0.3-0.5l0.4 5.4l0.3-9.8l0.4 6.2l0.3-4.5l0.4-0.1l0.3-3.9l0.4 6.4l0.3-7.3l0.3 3.3l0.4-6.6l0.3 4.5l0.4 1.9l0.3-3.5l0.4-4.3l0.3 3.2l0.4-5.1l0.3 1.8l0.4-4l0.3 6.3l0.4-6.5l0.3 1.1l0.4-3.9l0.3 2.8l0.4-3.4l0.3 0.5l0.4-1.9l0.3 0.1l0.4-2.7l0.3 5.5l0.3-10.4l0.4 6.2l0.3-3.9l0.4 2.6l0.3-4.1l0.4 0.4l0.3-6.2l0.3 8.4l0.4-5.9l0.3 3.7l0.4-5.5l0.3 2.7l0.4-3.6l0.3 0.6l0.3-2.7l0.4 5l0.3-7.6l0.4 4.2l0.3-7.7l0.4 2.5l0.3-1.3l0.3 1.3l0.4-5.4l0.3 6l0.4-8l0.3 6.7l0.3-5.9l0.4 3.4l0.3-5.3l0.4 5.4l0.3-10.4l0.4 6.3l0.3-6.3l0.3 2.1l0.4-3.6l0.3 0.8l0.4-2.6l0.3 2.8l0.3-0.6l0.4 0.4l0.3-3.7l0.4 3.9l0.3-8.4l0.4 4l0.3-2.7l0.3 3.5l0.4-7.9l0.3 7.2l0.4-6.3l0.3 1.6l0.4-6.7l0.3 5l0.4-4l0.3 3.9l0.3-5.3l0.4 2.6l0.3-5.2l0.4 4.1l0.3-3.4l0.4 4l0.3-8.5l0.4 3.6l0.3-5l0.4 5.4l0.3-7.8l0.4-1.2l0.3-0.6l0.4 5.2l0.3-5.3l0.4 5.3l0.3-5.9l0.4 3.8l0.3-10l0.4 6.6l0.3-5.4l0.4 3.6l0.3-4.6l0.4 5.6l0.3-8l0.4 6.3l0.4-5.7l0.3 3.3l0.4-9.6l0.3 6.6l0.4-2.7l0.3-0.6l0.4-2.5l0.4 2l0.3-6.2l0.4 3l0.3-2.4l0.4 3l0.4-5.8l0.3 4.2l0.4 0.3l0.3-1.7l0.4-4l0.4-2.5l0.3-1.1l0.4 3.6l0.3-6.8l0.4 7.8l0.4-6.7l0.3 2.2l0.4-5.4l0.4 5.8l0.3-5.3l0.4 1.5l0.4-5.1l0.3 2.6l0.4-5.2l0.4 3.6l0.3-1.5l0.4-0.9l0.4-2.7l0.3-0.6l0.4 0.9l0.4 0.6l0.3-7.8l0.4 5.3l0.4-4.5l0.3 1.9l0.4-2.7l0.4 2.1l0.3-1.5l0.4 2.1l0.4-9.4l0.3 9.2l0.4-9.8l0.4 4.2l0.3-1.4l0.4-0.1l0.4-2.6l0.4 2.7l0.3-7.3l0.4 2.8l0.4-1.8l0.3 5.2l0.4-1.8l0.4-5.4l0.3 0.2l0.4 1.4l0.4-6.1l0.4 5.6l0.3-3.8l0.4 1.6l0.4-6.2l0.3 4.1l0.4-5.4l0.4 0.8l0.4-4.2l0.3 5.8l0.4-6.7l0.4 3.1l0.3-4.8l0.4 5.2l0.4-6.7l0.4 5.1l0.3-5.2l0.4 3.1l0.4-6.9l0.3-0.2l0.4-0.4l0.4 5.4l0.4-4.5l0.3 0.2l0.4-3.9l0.4 4.6l0.4-7.1l0.3 4.8l0.4-5.4l0.4 1.1l0.3-3.4l0.4 2.3l0.4-6.9l0.4 5.6l0.3-5.6l0.4 2.5l0.4-1.8l0.4 1.1l0.3-1.1l0.4-0.5l0.4-6.7l0.4 7.6l0.3-8.6l0.4 4.4l0.4-5.5l0.4 5.2l0.3-8l0.4 4l0.4-2.1l0.4 2.8l0.3-2.7l0.4-0.7l0.4-1.9l0.4 2.6l0.3-4.9l0.4 2.6l0.4-5.8l0.4 4.7l0.4-5.7l0.3 1.7l0.4-3.1l0.4 5l0.4-7.6l0.3 3.1l0.4-1.7l0.4-0.4l0.4-3.5l0.4 5.7l0.3-10.1l0.4 8.5l0.4-4.9l0.4 2.5l0.4-6l0.3 1.9l0.4-2.9l0.4 2.4l0.4-5.1l0.3 0.9l0.4-0.9l0.4-4l0.4-1.7l0.4 5.2l0.3-2.3l0.4 1.9l0.4-5.5l0.4 2.3l0.4 0.4l0.3-4.2l0.4-2.5l0.4 3.4l0.4-0.7l0.3 1.6l0.4-8.2l0.4 5.6l0.4-7.1l0.4 5.1l0.3-7.4l0.4 6.6l0.4-5.7l0.4 5.7l0.4-7.2l0.3 3.7l0.4-5l0.4 1.3l0.4-3.7l0.3 4.2l0.4-8.3l0.4 3.9l0.4-5.9l0.3 6.4l0.4-5l0.4 3.3l0.4-7l0.3 5l0.4-1.7l0.4 0.1l0.4-3.6l0.3 0.3l0.4-4l0.4 6.2l0.4-4l0.3-1.9l0.4-2.6l0.4 0.2l0.4-2.6l0.3 1.4l0.4-2l0.4 2.6l0.3-5.1l0.4 1.4l0.4-4.7l0.4 8.1l0.3-8.1l0.4 5.9l0.4-9.9l0.3 5.6l0.4-0.6l0.4 1l0.3-6.7l0.4 2.3l0.4-4.1l0.4 1.7l0.3-5.9l0.4 3.1l0.4 0.7l0.3 2.2l0.4-5.6l0.4 1.8l0.3-4.4l0.4 0l0.4-2.8l0.4 5.1l0.3-4.4l0.4 2l0.4-4l0.3-0.2l0.4-5.2l0.4 3.9l0.3 0.3l0.4-1.4l0.4-1.6l0.3 1.2l0.4-6.1l0.4 6.3l0.3-6.6l0.4 1.3l0.4-1.7l0.4 3.6l0.3-5.4l0.4 5.6l0.4-7.1l0.3 0.7l0.4-4.7l0.4 6.4l0.3-4.7l0.4 1.5l0.4-4.8l0.4 5.1l0.3-8.4l0.4 2.8l0.4-0.5l0.3 0.9l0.4-4.7l0.4 5.6l0.4 1.6l0.3-6.5l0.4-5.9l0.4 6.1l0.4-6.5l0.3 2.7l0.4-5.8l0.4 4.9l0.3-2.1l0.4 1.5l0.4-5.9l0.4 5.4l0.3-5.7l0.4 3.3l0.4-4.9l0.4 5.1l0.3-10.8l0.4 4.8l0.4-2.4l0.4 3l0.4-7.1l0.3 1.4l0.4-1.1l0.4 0.5l0.4-5.9l0.4 7.3l0.3-6.1l0.4 4.6l0.4-7.8l0.4 4.2l0.4-2.9l0.3 4.2l0.4-4.9l0.4 0.8l0.4-2.8l0.3-2.6l0.4-2.9l0.4 3l0.4-3.3l0.4 3.4l0.3-2.1l0.4 4.3l0.4-4.9l0.4-0.8l0.4-3.7l0.3 2.9l0.4-2.1l0.4 2.7l0.4-8.2l0.4 5.6l0.3-5.8l0.4 4.2l0.4-7.3l0.4 4.1l0.4-5.1l0.3 4.5l0.4-5l0.4 3.2l0.4-5.4l0.4 5.3l0.3-9.3l0.4 5.8l0.4-4.4l0.4 3l0.4-5.8l0.4 2.7l0.3-3.2l0.4 2.1l0.4-2.5l0.4 3l0.4-5.8l0.4 0.5l0.3-2.3l0.4 1.4l0.4-2.5l0.4 4.2l0.4-7.5l0.4 3.6l0.4-5.7l0.4 4.5l0.3-6.3l0.4 6.1l0.4-8l0.4 5.8l0.4-3.2l0.4 0.6l0.4-2.9l0.4 4.7l0.4-8.9l0.4 1.2l0.3-2.7l0.4 1.4l0.4-4.4l0.4 6.5l0.4-6.6l0.4 3.1l0.4-3.9l0.4 3.1l0.4-5.6l0.4 4.7l0.4-6.8l0.4 3.7l0.4-2.4l0.4 2.1l0.4-11.9l0.4 9.8l0.4-5l0.4 6l0.4-9.1l0.4 8l0.4-8.9l0.4 3.5l0.4-4.2l0.4 1.8l0.4-2.6l0.5 3.9l0.4-5.2l0.4 1.4l0.4-3l0.4 1.8l0.4-5.5l0.5 4l0.4-6.1l0.4 5.5l0.4-7.7l0.5 7.2l0.4-9.1l0.4 9l0.5-8.1l0.4 2.4l0.4-2.3l0.5 4.5l0.4-4.9l0.4-2.1l0.5-1.4l0.4 4.6l0.5-5.8l0.4 1.5l0.4-4.3l0.5 3l0.4-4.7l0.5 2.8l0.4-2.8l0.4 5.1l0.5-7.9l0.4 2.8l0.4-5.9l0.5 6.3l0.4-4.6l0.4-1.1l0.5-4.1l0.4 5.9l0.4-6.7l0.4 0.3l0.5-1.8l0.4 3.7l0.4-5.6l0.4 5.6l0.4-7.6l0.4 6.3l0.4-6.1l0.4 4.1l0.4-8.2l0.4 6.9l0.4-6.9l0.4 5.5l0.4-9l0.4 7.3l0.3-6l0.4 1.4l0.4-3.9l0.3 5l0.4-6.8l0.4 4.9l0.3-6.5l0.4 2.2l0.3-1.3l0.4-0.8l0.3 0.2l0.4-2.3l0.3-3.5l0.4 3.4l0.3-3.3l0.4 2.8l0.3-3.9l0.4 0.9l0.3-7.5l0.4 7.5l0.3-3.8l0.4 4.9l0.3-12.8l0.4 8.5l0.4-5.9l0.3 2.6l0.4-1.8l0.4-2.2l0.3-3.5l0.4 6.7l0.4-9.6l0.3 6.9l0.4-8.4l0.4 8.3l0.4-10.5l0.4 4l0.4-1.6l0.4 3.7l0.4-7.7l0.4 1l0.4-3.9l0.4 7.8l0.5-6.4l0.4-3.8l0.4 0.2l0.4 5.1l0.5-7.2l0.4 5.1l0.5-2.2l0.4 2.6l0.5-6.1l0.4 1.7l0.5-1.6l0.4 4.4l0.5-9.2l0.5 4.1l0.4-4.6l0.5 1.8l0.5-6.1l0.4 7.2l0.5-4.3l0.5 4.1l0.5-7.9l0.4 1.7l0.5-4.3l0.5 7.3l0.5-5.8l0.5 2.4l0.5-3.2l0.5 0l0.4-3.4l0.5 4.1l0.5-4.9l0.5 2.3l0.5-8.3l0.5 4.2l0.5-1.9l0.5 4.9l0.5-7.6l0.5 8.1l0.5-11.1l0.5 5.9l0.4-4.9l0.5 2l0.5-6.9l0.5 8.4l0.5-10.5l0.5 7l0.5-0.1l0.5-1.3l0.5-5.1l0.5-2.7l0.5 0.6l0.5 6.4l0.5-8.6l0.5 3.9l0.4-3.5l0.5 3.3l0.5 2.8l0.6-11.1l0.5 1.4l0.5 8.6l0.5-9.2l0.5 5.7l0.5-5.9l0.5 1.3l0.5-3.8l0.5 7.4l0.5-11.2l0.5 5.6l0.5-2.7l0.5 1.5l0.5-3.4l0.6 3l0.5-3.4l0.5 2.4l0.5-6.9l0.5 1l0.5-1.3l0.5 3.8l0.6-9.1l0.5 2.4l0.5-0.2l0.5 4.8l0.5-8.6l0.5 2.5l0.6-5.4l0.5 10.1l0.5-11.1l0.5 3.7l0.5-3.7l0.5 3.9l0.6-6l0.5 4.5l0.5-3.6l0.5 1.1l0.5-5.6l0.6 7.5l0.5-3l0.5 2.1l0.5-5.9l0.5 2.3l0.5-9.8l0.5 9.4l0.6-5.3l0.5 4.4l0.5-6.2l0.5 2.6l0.5-4.8l0.5 5.5l0.5-4.1l0.5-2.6l0.6-3.3l0.5 4.4l0.5-5.1l0.5 7.1l0.5-11.5l0.5 7.3l0.5-6l0.5 5.8l0.5-5.2l0.6 1.2l0.5-5.2l0.5 6.9l0.5-7.1l0.5 0.5l0.5-7l0.5 11.7l0.5-12.6l0.6 10.4l0.5-9.4l0.5 4l0.5-6.9l0.5 8.1l0.5-10.5l0.6 5.7l0.5-2.9l0.5 1.9l0.5-3.6l0.5 2.1l0.6-2.5l0.5 0.9l0.5-7l0.5 6.7l0.6-3.8l0.5 1.9l0.5-4.4l0.5 3.4l0.6-4.5l0.5 4.1l0.5-6.6l0.6 8.5l0.5-8.4l0.5-1.4l0.6 1.1l0.5 3.7l0.6-6.4l0.5 3.3l0.6-6.7l0.5 5.3l0.6-2.3l0.5 0.1l0.6-5.5l0.5 1.5l0.6 0.1l0.5 2.5l0.6-5.9l0.6 5.6l0.5-5.4l0.6 3l0.6-4.7l0.5-7.2l0.6 3.9l0.6 5.5l0.6-7.3l0.5 4.1l0.6-4.8l0.6 5.9l0.6-5l0.6-0.7l0.6-2.3l0.7 7.1l0.6-11.7l0.6 7.6l0.6-6.4l0.7 3.7l0.6-4.2l0.7-2.1l0.6 2.2l0.7 3l0.6-7.6l0.7 2.9l0.6-4.7l0.6 3.8l0.7-1l0.6 1.3l0.7-0.3l0.6 1.3l0.6-4.6l0.7 1.9l0.6-3.2l0.6 1.8l0.6-5.8l0.7 9.1l0.6-9.1l0.6 4l0.6-5.3l0.6 3.1l0.6-3.3l0.6 6.3l0.5-9.5l0.6 8.4l0.6-14.3l0.6 10.5l0.6-7.5l0.6 8.2l0.6-8.7l0.5 5.3l0.6-10.4l0.6 6.2l0.6-4l0.6 2.9l0.6-5.2l0.5 5.9l0.6-5.6l0.6 3.4l0.6-7.6l0.6 4.4l0.6-2.7l0.6 2.6l0.6-3.8l0.6 5.4l0.6-13l0.6 4.2l0.6 2.6l0.6 3.1l0.7-7.1l0.6 3.1l0.6-7.6l0.7 7.3l0.6-10.6l0.6 8.2l0.7-7.8l0.6 8.3l0.7-7.9l0.6 4.5l0.7-4.3l0.7 1.5l0.6-4.4l0.7 4.9l0.6-8.3l0.7 7.6l0.7-3.2l0.7 2.7l0.6-4.6l0.7 6.3l0.7-11l0.7 4l0.7-6.4l0.7 7.5l0.6-1.3l0.7 2.4l0.7-6.5l0.7 4.7l0.7-6.4l0.7 5.4l0.7-5.8l0.7 4l0.7-6.5l0.7 4.2l0.7-1.9l0.7-3l0.7-1.9l0.7 2.5l0.7-5.7l0.7 9.7l0.7-8.9l0.7 5.8l0.7-8.7l0.7 7.2l0.7-8.4l0.7 6.3l0.7-7.8l0.7 8.3l0.8-11l0.7 10.9l0.7-5.9l0.7-0.1l0.7-2.1l0.8 7l0.7-6.4l0.7 3.4l0.7-6.1l0.7 3l0.8-2.2l0.7 4.1l0.7-10.6l0.8 9l0.7-3.7l0.7 2.2l0.7-3.6l0.8 0l0.7-4.5l0.7 5.4l0.8-3.8l0.7 6.4l0.7-11.7l0.8 10.7l0.7-14.2l0.8 8.7l0.7-6.6l0.7 4l0.8-5.2l0.7 3.1l0.8-1.7l0.7 3.7l0.7-8.7l0.8 6.3l0.7-5.7l0.8 6.1l0.7-9.5l0.7 8.5l0.8-6.7l0.7 9.7l0.8-11.4l0.7 2.9l0.8-3.4l0.7 3.5l0.8-5.2l0.7 8.2l0.7-5.8l0.8 0.3l0.7-5.1l0.8 7.9l0.8-5.5l0.7 4.6l0.8-4.6l0.7 4.4l0.8-9.8l0.7 2.9l0.8 0.2l0.8 3.6l0.8-8.2l0.7 6.5l0.8-4.3l0.8-0.2l0.8-2.8l0.7 8l0.8-9.4l0.8 5.2l0.8-5.1l0.8 4.9l0.8-8.3l0.8 11.2l0.8-8.3l0.8 4.7l0.8-7.6l0.8 5l0.8-1.6l0.8-1.8l0.8-4.6l0.8 8.5l0.8-8.5l0.8 6.3l0.8-5.8l0.8 3.2l0.8-7l0.9 12.4l0.8-7.9l0.8 5.4l0.8-8.8l0.8 3.8l0.9-5.7l0.8 7.2l0.8-5.4l0.8 0.4l0.9 0.1l0.8 5.9l0.8-7.3l0.9 4.2l0.8-7.1l0.9 4.3l0.8-7.8l0.9 7.2l0.8-3.9l0.9 7.9l0.8-6l0.9 1.5l0.8-1.5l0.9 3.3l0.9-5.8l0.8 5.2l0.9-5.1l0.8 4.5l0.9-8.3l0.9 6l0.8-9l0.9 10.3l0.8-1.7l0.9 1.8l0.8-2.6l0.9 2.9l0.8-9.2l0.9 2.7l0.8 1.3l0.8 1.2l0.9-4.8l0.8 5l0.8-5.7l0.8 7l0.8-10.3l0.9 4.7l0.8-1.2l0.8 0.2l0.8-3.8l0.9 6.7l0.8-5.6l0.9 0.9l0.8-4.4l0.9 2.1l0.8-0.7l0.9 4.1l0.9-4.6l0.8 6.4l0.9-6.2l0.9 3.2l0.9-8.6l0.9 7.9l0.8-5l0.9 7.1l0.9-3.9l0.9 2.3l0.9-4.6l0.9 8.2l0.9-10.4l0.9 8l0.9-4.9l0.9 0.3l0.8-1.9l0.9 6l0.9-6.8l0.9 8.4l0.9-10.9l0.8 10.9l0.9-6.1l0.9 0.2l0.9-8.4l0.9 10.7l0.8-3.1l0.9-0.9l0.9-3.8l0.9 4.6l0.8-6.8l0.9 3.5l0.9-2.6l0.9 5.5l0.8-5.9l0.9 4l0.9-6.9l0.8 8.8l0.9-7.8l0.8 11l0.9-9.7l0.9 6l0.8-7.7l0.8 6.5l0.9-6.1l0.8 7.2l0.9-8.9l0.8 4.1l0.9-4.6l0.8 6.3l0.9-4.9l0.8 4.7l0.9-8.8l0.9 10.8l0.9-7.9l0.8 3.4l0.9-4.7l0.9 5.9l0.9-10l0.9 5.2l0.9-0.3l0.9 3.6l0.8-7.5l0.9 3l0.9-4.9l0.9 1.6l0.9 2.3l0.9 5.8l0.9-5.6l0.9-0.2l0.9-0.8l0.9 5.1l0.9-7.8l0.8 12l0.9-8.7l0.9 1.6l0.9-3.8l0.9 8.6l0.9-6.8l0.9 3.7l0.8-8.4l0.9 4l0.9-5.3l0.9 10.3l0.9-6.7l0.9 2.7l0.9-6.8l0.8 13.3l0.9-9.1l0.9 2.3l0.9-4.2l0.9 6.4l0.9-9.9l0.8 8.8l0.9-5l0.9 8.4l0.9-8.6l0.9 7.6l0.9-5.5l0.8 4.3l0.9-8.6l0.9 5.8l0.9-5.8l0.9 2.2l0.9-1l0.8 4.9l0.9-4.8l0.9 3.1l0.9-4.4l0.9 4.4l0.8-5.8l0.9 9.3l0.9-7.1l0.9 5.6l0.8-10.4l0.9 7l0.9-6l0.9 7.7l0.8-5l0.9 2.3l0.9 3.3l0.9-2.5l0.9-8l0.8 10.9l0.9-7.7l0.9 7.7l0.9-10.9l0.9 3.2l0.9-2.4l0.9 7.2l0.8-10.1l0.9 7.2l0.9-5.3l0.9 2.9l0.9-4l0.9 7.2l0.9-7.8l0.9 7.4l0.9-7.1l0.9 9l0.9-2.9l0.9 3.2l0.9-6.1l0.9 4.4l0.9-9.7l0.9 5.3l0.9 1.9l0.9 1l0.9-3.4l0.9 2.8l0.9 3.9l0.9-2.6l0.9-5.4l0.9 6.6l0.9-2.2l0.9 4.7l0.9-5.1l0.9 1.3l0.9-4.4l0.9 3.9l0.9-5.2l0.9 6.8l0.9-5.9l0.9 9.1l0.9-7.3l0.9 0.1l0.9-5.9l0.9 7.2l0.9-5.7l0.9 8.6l0.9-9.2l0.9 7.2l0.9-2.3l0.9 5.3l0.9-3.5l0.9 3.8l0.9-8.6l0.9 10.6l0.9-9.4l0.9 8.1l0.9-10.3l0.9 4.7l0.9-3.7l0.9 3.8l0.9-6.4l0.9 11.7l0.9-6.9l0.9 6.2l0.9-11.1l0.9 8.3l0.9-4.8l0.9 6l0.9-2.6l0.9 3.9l0.9-5.8l0.9 4.5l0.9-7.3l0.9 3.5l0.9-3.1l0.9 5.8l0.9-7.3l0.9 10.7l0.9-8.1l0.9-0.3l0.9-3.5l0.9 3.9l0.9-4.6l0.9 11.5l0.9-2.8l0.9 3.8l0.9-9.6l0.9 4.9l0.9-2.5l0.9 4l0.9-5.7l0.9 5.9l0.9-4.2l0.9 7.5l0.9-8.8l0.9 3.2l0.9-4.7l0.9 5.6l0.9-8.1l0.9 11.5l0.9-8.3l0.9 10.4l0.9-11.9l0.9 7.6l0.9-3.4l0.9 7.7l0.9-11.9l0.9 8.9l0.9-1.3l0.9-1.2l0.9-1.8l0.9 2.7l0.9-5.4l0.9 7.1l0.9-3.6l0.9 1.5l0.9-3.4l0.9 8.2l0.9-11.6l0.9 8.2l0.9-4l0.9 4.5l0.9-10.6l0.9 8.1l0.9-5.3l0.9 6.1l0.9-2.9l0.9 7.5l0.9-7.5l0.9 7.4l0.9-9.1l0.9 6.2l0.9-6.9l0.9 2.1l0.9-5.8l0.9 7l0.9-2.2l0.9 3.9l0.9-5.5l0.9 3.9l0.9-2.2l0.9 1.3l0.9-2.6l0.9 3.1l0.9-3.2l0.9 3.8l0.9-4.8l0.9 9.8l0.9-8.5l0.9 7.5l0.9-6.7l0.9 4.2l0.9-6.3l0.9 7.5l0.9-7.2l0.9 5.2l0.9-3.3l0.9 7.3l0.9-6.5l0.9-1.3l0.9 1.2l0.9 1.7l0.9-5.2l0.9 6.9l0.9-10.5l0.9 6.9l0.9 1.4l0.9 3.3l0.9-7.2l0.9 4.3l0.9-4.1l0.9 4.7l0.9-3.7l0.9 0.1l0.9-1.7l0.9 7.8l0.9-6.8l0.9-0.7l0.9-0.1l0.9 3.7l0.9-5.6l0.9 3.3l0.9-1.6l0.8 2.5l0.9-2.3l0.9 1.3l0.9-6.9l0.9 6l0.9 0.2l0.9 2.1l0.9-4.5l0.9 3.1l0.9-6.9l0.9 8.8l0.9-1l0.9 3l0.9-4.5l0.9 1.5l0.9-1.5l0.9 1.7l0.9-5.8l0.9 3.1l0.9-3.6l0.9 5.1l0.9-2.5l0.9 7l0.9-7.6l0.9-3.3l0.9 5.9l0.9 5.2l0.9-5.5l0.9 7l0.9-8.4l0.9 5.5l0.9-5.2l0.9 3l0.9-2l0.8 2.8l0.9-2.7l0.9 7.1l0.9-4.8l0.9 2.2l0.9-3.9l0.9 0.9l0.9-0.2l0.9 2.3l0.9 1.1l0.9 1.3l0.9-5.6l0.9 4.8l0.9-6.1l0.9 2.8l0.9-7.1l0.8 8.9l0.9-6l0.9 3.5l0.9-2.1l0.9 4.1l0.9-2.5l0.9 1.2l0.9-4.2l0.9 2.4l0.9-1.2l0.9 2l0.9-6.1l0.9 7l0.9-3.3l0.9 1.2l0.9 0.6l0.9 2.4l0.9-4.1l0.9 4.4l0.9-1.2l0.9 1.7l0.9-4l0.9 3.2l0.9-7.8l0.9 5.9l0.9-5.9l0.9 9.8l0.9-4.8l0.9 2.5l0.9-3.9l0.9 6.2l0.9-8.2l0.9-0.1l0.9 6.8l0.9 1.4l0.9-3.4l0.9-2.1l0.9 1.6l0.9-0.3l0.9 0.1l0.9 2.1l0.9-4.5l0.9 6.9l0.9-6.5l0.9 5.4l0.9-2.8l0.9 2.3l0.9-7.8l0.9 11.8l0.9-6.6l0.9 3.5l0.9-7.5l0.9 8l0.9-4.7l0.9 6.4l0.9-7.6l0.9 5.8l0.9-3.5l0.9 5.5l0.9-8.1l0.9 5.4l0.9-3.8l0.9 5.6l0.9-6.1l0.9 3.4l0.9-3l0.9 3.2l0.9-5.7l0.9 5.6l0.9-4.8l0.9 10.5l0.9-9.6l0.9 7.5l0.9-6.6l0.9 7.3l0.9-7.9l0.9 9.6l0.8-10.9l0.9 6.6l0.9-2.4l0.9 4.1l0.9-0.6l0.9-2.9l0.9-0.3l0.9 2.4l0.9-5l0.9 4.7l0.8-1l0.9 6.2l0.9-7.7l0.9 4.2l0.9-8.3l0.9 13.4l0.8-5.9l0.9 0l0.9-3.5l0.9 8l0.9-9.2l0.9 5.8l0.9-2.1l0.9 6.6l0.9-7.3l0.9 2.5l0.8-1.6l0.9 2.4l0.9-1.8l0.9 1.9l0.9-6.8l0.9 6.5l0.9 1l0.9-1.3l0.9 4.8l0.9 0.4l0.9-9.5l0.9 5.8l0.9-3.2l0.9 4.5l0.9-4.6l0.9 3.4l0.9-7.9l0.9 8.8l0.9-3.6l0.9 6.6l0.9-8.8l0.9 5.6l0.9-3.1l0.9 3.4l0.9 0.8l0.9 1l0.9-6.3l0.9 6.1l0.9-0.9l0.9 0.5l0.9-2.7l0.9 4.8l0.9-6.6l0.9 8.2l0.9-10.9l0.8 5.2l0.9 0.3l0.9 1.4l0.8-5.1l0.9 9.7l0.9-10.1l0.8 9.6l0.9-5.7l0.9 7.8l0.8-8.9l0.9 10.9l0.9-7.5l0.9 2l0.8-3.4l0.9 4.9l0.9-4.5l0.9 8.8l0.9-10.5l0.9 10.6l0.9-11.1l0.9 8.4l0.9-4.9l0.9 3.9l0.9-8.1l0.9 4.1l0.9 1.4l0.9-0.1l0.9-2.5l0.9 8.2l0.9-6.1l0.9 3.2l1-3.5l0.9 1.6l0.9-3.6l0.9 3.4l0.9 0.4l0.9 2.8l0.9-6l0.9 0.8l0.9-1.1l0.9 7.1l0.9-8.1l0.9 6.2l0.9-7l0.9 7.1l0.9 2.8l0.9 0.5l0.9-6.2l0.9 0.5l0.9-4.7l0.9 3.3l0.9-2.7l0.9 5l0.9-6.2l0.9 11.4l0.9-9.3l0.8 5.4l0.9-4.1l0.9 3.1l0.9-6.4l0.8 12.9l0.9-6.2l0.9 5.4l0.8-9.4l0.9 4.2l0.9 2.3l0.9 4.6l0.9-5l0.9 2.9l0.8-9.7l0.9 8.1l0.9-5.7l0.9 3.8l0.9-0.5" fill="none" stroke="#fd3c3c" stroke-width="6.2" stroke-linejoin="round" stroke-linecap="round"/>
<path d="M208.5 1141.3l0.3 5.2l0.3-4l0.2 1l0.3-2.3l0.3-1l0.3-0.6l0.3 2.9l0.3-5.9l0.3 3l0.3-3.7l0.3 1.7l0.3-5l0.3 2.6l0.3-3.4l0.3 1.4l0.3-1.8l0.3 1.1l0.3-2.1l0.3 1.6l0.4-5.1l0.3 2.5l0.3-7.2l0.3 2.6l0.3-1.5l0.4 1.9l0.3-3.5l0.3 2.6l0.3-4.9l0.4 0.8l0.3-0.3l0.3 1.7l0.4-6.2l0.3 4.9l0.3-7l0.4 6.3l0.3-6.4l0.4 1.4l0.3-3.5l0.4 3.8l0.3-5.7l0.4 3.1l0.3-4l0.4 5.2l0.3-5.8l0.4 1.6l0.4-5.8l0.3 6.4l0.4-5l0.4-0.3l0.4-2.7l0.4 1.4l0.4-1.5l0.4 3.7l0.3-9.7l0.4 5.8l0.4-6l0.5 2.9l0.4-4.3l0.4 6.6l0.4-5.1l0.4 1.5l0.4-4.4l0.4 4.2l0.4-7.6l0.4-0.8l0.5-1.3l0.4 2l0.4-1.9l0.4 4.7l0.4-7.3l0.4 2.7l0.4-5.2l0.5 4.6l0.4-0.4l0.4-1.1l0.4-5.7l0.4 3.8l0.4-3l0.4-0.3l0.4-3.4l0.4 2.9l0.4-2.9l0.4 0.1l0.4-6.1l0.4 4.8l0.4-1.4l0.4 2.8l0.4-8.1l0.4 7.8l0.4-8.6l0.3 4.4l0.4-6.5l0.4 3.6l0.3-4.8l0.4 2.2l0.4-2.9l0.4 2.7l0.3-1.4l0.4-0.8l0.4-2.9l0.3 1.4l0.4-3.9l0.3 2.8l0.4-3.1l0.4 2l0.3-7.2l0.4 6l0.3-8.6l0.4 7.4l0.4-9.1l0.3 6.2l0.4-3.9l0.3 0.1l0.4-0.2l0.3 2.5l0.4-6.6l0.3 3.3l0.4-2.1l0.3-0.4l0.4-2.4l0.3 2.2l0.4-6.4l0.3 3.8l0.4-6.7l0.3 2.8l0.4-2l0.3 6l0.4-9.5l0.3 6.3l0.4-6.8l0.3 1.2l0.4-2.9l0.3 5.6l0.3-3.5l0.4-0.7l0.3-6.4l0.4 2.9l0.3-2.9l0.4 3.3l0.3-7.7l0.4 6.7l0.3-4.8l0.3 3.9l0.4-5.2l0.3 1.6l0.4-3.2l0.3 3.3l0.4-6l0.3 3.6l0.3-6.5l0.4 6.4l0.3-6.2l0.4 0.1l0.3-4.6l0.4 3.8l0.3-3.7l0.4 4.9l0.3-3.8l0.3 2.6l0.4-5.7l0.3 4l0.4-4.4l0.3-1.7l0.4-3l0.3 3.8l0.4-4.2l0.3 1.7l0.4-1.5l0.3 4.3l0.4-8.6l0.3 4.9l0.4-3.6l0.3-1.8l0.4-3.3l0.3 3.1l0.4-0.4l0.4-0.7l0.3-4l0.4 3.8l0.3-3.4l0.4-0.2l0.3-4.9l0.4 2.8l0.4-2.8l0.3 3.8l0.4-4.9l0.3 3.5l0.4-5.2l0.4 0.7l0.3-1.7l0.4-1.4l0.3-1.4l0.4 1.4l0.4 1.3l0.3-1.8l0.4-3.7l0.4 1.3l0.3-4l0.4 2.7l0.4-2.2l0.3 0.8l0.4-4.9l0.3 3.7l0.4-7.4l0.4 4.7l0.3 0.3l0.4-1.6l0.4-2.9l0.3 3.6l0.4-4.6l0.4 3.7l0.3-6l0.4 0.4l0.4-1.5l0.3 2.1l0.4-2.8l0.4-1.8l0.3-1.7l0.4 0.1l0.4-3.4l0.3 5.7l0.4-8.1l0.4 3.7l0.3-1.6l0.4-1l0.4-2.6l0.3 2.8l0.4-6.8l0.4 4l0.3 1.7l0.4-1l0.4-7.5l0.3 3.1l0.4-4.1l0.4 1.5l0.3-1.5l0.4 1.8l0.4-2.7l0.3-0.7l0.4-4.5l0.3 4.5l0.4-2.3l0.4 3l0.3-6.3l0.4 2.3l0.4-3.2l0.3 2.8l0.4-5.7l0.4 6.7l0.3-4.5l0.4-1.2l0.4-4.3l0.3 2.6l0.4-6.2l0.3 7.8l0.4-10.2l0.4 6.1l0.3-5.6l0.4 4.6l0.3-2.4l0.4 2l0.4-4.4l0.3-1l0.4-1.9l0.3 0l0.4-2.2l0.4 1.1l0.3-1l0.4 2.1l0.3-6.7l0.4 3.7l0.3-2.2l0.4 0.1l0.4-6l0.3 4.6l0.4-3.6l0.3-0.1l0.4-4l0.3 5.9l0.4-6.6l0.3 3.2l0.4-4.8l0.3 4.1l0.4-5.3l0.3 3.2l0.4-4.3l0.3 2.6l0.4-3.4l0.3-0.1l0.4-5.6l0.3 5l0.4-4l0.3 6.5l0.3-9.4l0.4 7.5l0.3-10.3l0.4 6.3l0.3-6.8l0.4 5.4l0.3-3.5l0.4-0.2l0.3-4.1l0.4 2.7l0.3-4.8l0.4 2.7l0.3-4.4l0.3 4.7l0.4-5.6l0.3-0.1l0.4-3.1l0.3 6.5l0.4-5.9l0.3 2.9l0.4-7.7l0.3 8.9l0.3-9.4l0.4 2.9l0.3-4.9l0.4 4.8l0.3-3.7l0.4 3.6l0.3-9.3l0.4 7.5l0.3-3.9l0.4-1.6l0.3-2.7l0.4 1.3l0.3-0.4l0.4 0.2l0.3-5.7l0.4 2.7l0.3-2.7l0.4 1.4l0.3-2.6l0.4 4.1l0.3-7.1l0.4 5.2l0.3-5.8l0.4 3.9l0.3-4.4l0.4 2.1l0.3-4.2l0.4 1.4l0.3-2.8l0.4 0.4l0.4-0.7l0.3 3.8l0.4-8.2l0.3 3.3l0.4-4l0.3-0.5l0.4-1.8l0.4 2.3l0.3-6.1l0.4 4l0.4-3.3l0.3 4.4l0.4-5.4l0.3-1.5l0.4 2l0.4-0.1l0.3-5l0.4 3.3l0.4 4.8l0.4-7.5l0.3-1.2l0.4-1.1l0.4-1.5l0.3 0.3l0.4-5.4l0.4 6.3l0.4-6l0.3 1.2l0.4-2.3l0.4 2.6l0.3-5.2l0.4 4.1l0.4-6.4l0.4 2.5l0.4-2.4l0.3 2.5l0.4-4.1l0.4 2.6l0.4-6.3l0.3 4.8l0.4-4.7l0.4 2.7l0.4-4.6l0.4 6.5l0.3-6.6l0.4 4.6l0.4-10.6l0.4 9.4l0.4-9.3l0.3 6.5l0.4-9.6l0.4 4.7l0.4-2l0.4 0.5l0.4-2.4l0.3 0.2l0.4-0.5l0.4-0.3l0.4-6.1l0.4 6.9l0.4-6.7l0.4 2.1l0.3-2.6l0.4 5.1l0.4-7.8l0.4 4.3l0.4-5.3l0.4 1.2l0.4-2.9l0.4 3.7l0.3-4l0.4 3l0.4-5.8l0.4-0.9l0.4 2l0.4-0.2l0.4-4.1l0.4 5.7l0.3-7.9l0.4 4l0.4-3l0.4 0.8l0.4-2.7l0.4 4.1l0.4-7.6l0.4 2.1l0.3-3l0.4 0.3l0.4-5.6l0.4 5.4l0.4-5.2l0.4 3.3l0.4-5.8l0.4 5.2l0.4-7l0.3 6.8l0.4-5.8l0.4 4.2l0.4-4l0.4 3.3l0.4-8.2l0.4 0.1l0.4 2l0.4 1l0.3-5.3l0.4 3.8l0.4-2.1l0.4 0.5l0.4-5.4l0.4 5.9l0.4-5.2l0.4-0.7l0.4-1.7l0.3 2.5l0.4-6.6l0.4 3.6l0.4-3.3l0.4 4.2l0.4-8.8l0.4 2.8l0.4-1.3l0.4-1.4l0.4-4l0.4 6l0.4-2.6l0.4-1.2l0.3-3.1l0.4 2.3l0.4-4.2l0.4 1.7l0.4-1.5l0.4 0.9l0.4-7.3l0.4 4.6l0.4-2.8l0.4 3.2l0.4-10.1l0.4 7.4l0.4-7.1l0.4 6.1l0.4-6.4l0.4 3.3l0.4-5.3l0.4 4.9l0.4-5.4l0.4 5.1l0.4-6.4l0.4 3.4l0.4-4.1l0.3 6.1l0.4-5l0.4-0.7l0.4-4.6l0.4 5.3l0.4-8.3l0.4 5.6l0.4-7.1l0.4 3.9l0.4-1.5l0.4-1.7l0.4-1.7l0.4 1.2l0.4-4.1l0.4 2.9l0.4-2.8l0.4 4.9l0.4-6.3l0.4 2.1l0.4-3.7l0.4-0.9l0.4-1.7l0.3 4l0.4-7.5l0.4 5.2l0.4-4.1l0.4-0.6l0.4-3l0.4 7.2l0.4 0.9l0.4-4l0.4-5l0.4 3.7l0.4-9.3l0.4 7.6l0.3-5.8l0.4 1.9l0.4-6.7l0.4 5.8l0.4-5.9l0.4 5.8l0.4-7.2l0.4 2.4l0.4-0.7l0.3 0.5l0.4-5.9l0.4 5.6l0.4-4.2l0.4 3.3l0.4-4.4l0.4-2.3l0.3-3.5l0.4 3l0.4-1l0.4 2.2l0.4-7.6l0.3 5.6l0.4-5.3l0.4 2.4l0.4-2.6l0.4 4.6l0.3-7.3l0.4 5.4l0.4-1.2l0.4-3.8l0.4-5.4l0.3 1.7l0.4-2l0.4 6.7l0.4-10.3l0.3 5.4l0.4-3.4l0.4 0.3l0.4-2.4l0.3 2.4l0.4-7.4l0.4 3.3l0.4-3.6l0.3 2l0.4-5.9l0.4 7.1l0.4-5l0.3 3.5l0.4-4l0.4-1l0.3-0.3l0.4 3.3l0.4-5l0.4 1.5l0.3-6.9l0.4 7.4l0.4-5.3l0.4 2.7l0.3-7.7l0.4 8.2l0.4-9.2l0.4 3.1l0.3-4.2l0.4 7l0.4-7.8l0.4 3.8l0.3-5.7l0.4-3.2l0.4 3.1l0.4 3l0.3-5.1l0.4-2.1l0.4-1.3l0.4 5.2l0.3-6.9l0.4 4.3l0.4-5.4l0.4 3.1l0.4-3.7l0.3 4.3l0.4-1.4l0.4-2.9l0.4-5.8l0.4 4l0.3-7.7l0.4 8.2l0.4-4.9l0.4 2.6l0.4-5.2l0.4 4.8l0.3-9.2l0.4 2.3l0.4-1.8l0.4 5.6l0.4-8.3l0.4 5l0.4-4.1l0.4 5.2l0.3-8.9l0.4 5.7l0.4-6.9l0.4 7.4l0.4-8.8l0.4 4.5l0.4-5.8l0.4 6.9l0.4-9l0.4 1.5l0.4-2.4l0.4 2.2l0.4-5.9l0.4 3.6l0.4-1.8l0.3 4.2l0.4-7.4l0.4 1.5l0.4-2.7l0.4 0.7l0.4-1.6l0.4 2.5l0.4-5l0.4 3.6l0.4-7.8l0.4 5.8l0.4-3.1l0.4-3.2l0.4 1.5l0.4 0.7l0.4-2.8l0.4 1.4l0.4-2.9l0.4 2.9l0.4-8.2l0.4 2.1l0.4-4.5l0.4 5.8l0.4-5.4l0.4 3.4l0.4-4.6l0.4 5.6l0.4-2.7l0.4-0.6l0.4-8.1l0.5 3l0.4 2.5l0.4 0.6l0.4-1.7l0.4-0.2l0.4-4.8l0.4 0l0.4 0.6l0.4 3.9l0.4-10.9l0.4 3.9l0.4-3.8l0.4 2.8l0.4-2.5l0.5 3.4l0.4-5.9l0.4-1.6l0.4-3.3l0.4 8.5l0.4-11.6l0.4 9.1l0.4-6.1l0.5 1.9l0.4-4.5l0.4 1.9l0.4-3.9l0.4 4.6l0.4-5.8l0.5 2.9l0.4-5.1l0.4 7.3l0.4-12l0.4 11.7l0.4-11.3l0.5 1.9l0.4 0.5l0.4 1.5l0.4-6.9l0.5 5.9l0.4-5.9l0.4 6.2l0.4-5.6l0.4-0.5l0.5-0.6l0.4 0.7l0.4-2.3l0.4 4.3l0.5-10.1l0.4 9.6l0.4-12.2l0.5 10.5l0.4-10.1l0.4 0.2l0.5-0.5l0.4 4.8l0.4-8.1l0.5 1.9l0.4-3.4l0.5 8.1l0.4-6.4l0.4 1.4l0.5-3.7l0.4 1.2l0.5-6.3l0.4 2.9l0.5-0.1l0.4-1.7l0.5-3.4l0.4 4.9l0.5-4.2l0.4 4.4l0.5-6.5l0.4 7.7l0.5-9.5l0.4 4.4l0.4-10.3l0.5 12.2l0.4-9.9l0.4 3.2l0.5-7.4l0.4 7.4l0.4-5.6l0.4 6.2l0.5-10l0.4 5.4l0.4-7.7l0.4 6.1l0.4-9.6l0.5 8.6l0.4-5.5l0.4 7.8l0.5-9.8l0.4 6.7l0.4-7l0.5 4.9l0.4-6.5l0.5 3.3l0.4-2.2l0.5-0.6l0.5-2.1l0.4 2.2l0.5-6.3l0.5 5.1l0.5-6.7l0.5 8.2l0.5-8.4l0.5 1.2l0.5-3.3l0.5 2.5l0.5-5.9l0.6 6.9l0.5-7.5l0.5 0.6l0.6-2.3l0.5 1.9l0.6-6.1l0.5 8.6l0.6-10.8l0.5 9.5l0.6-6.3l0.5 7.9l0.6-11.7l0.6 3.4l0.5-2.6l0.6 3.7l0.6-3.5l0.5 2.1l0.6-4.7l0.6 6.1l0.6-11l0.6 6.3l0.5-5.3l0.6 4.3l0.6-6l0.6 5.8l0.6-3.3l0.6 2.4l0.5-5.6l0.6 1l0.6-4.7l0.6 5.8l0.6-3.6l0.6 1.9l0.6-8.1l0.5 10.9l0.6-8.8l0.6 1.6l0.6-5l0.6 3.3l0.6-1.7l0.6 4.1l0.5-9.1l0.6 6.5l0.6-8.2l0.6 7.3l0.6-6l0.6 5.6l0.6-8.9l0.7 9.8l0.6-9l0.6 7.4l0.6-10.4l0.6 6l0.6-6.6l0.6 6.7l0.6-7.8l0.6 4.6l0.6-4.7l0.7 1.1l0.6-1.8l0.6 3.4l0.6-4l0.6 2.4l0.6-4.8l0.6 4.2l0.7-2.8l0.6 1l0.6-4.5l0.6 5.3l0.6-8.1l0.6 3.1l0.7-8.1l0.6 7.2l0.6-2.9l0.6 2.2l0.6-7.7l0.6 7.7l0.6-9.8l0.7 7.2l0.6-7l0.6 2.5l0.6-2.7l0.6 4l0.6-1.9l0.6 1.4l0.6-5.7l0.6 3.3l0.7-5.8l0.6 5.5l0.6-4.7l0.6 5.1l0.6-7.9l0.6 5.3l0.6 0.5l0.7-0.7l0.6-11.9l0.6 6l0.6-7.7l0.6 10.4l0.6-6l0.7-0.1l0.6-2.5l0.6 5l0.6-6.2l0.6 4.7l0.7-7.4l0.6 2.8l0.6-1.6l0.6-0.2l0.7 0.5l0.6 2.9l0.6-6.3l0.7 4.7l0.6-6l0.6 4.1l0.7-6.7l0.6 4.4l0.6-8.2l0.7 3.8l0.6-6.3l0.6 8.8l0.7-6.4l0.6 6.8l0.6-8.6l0.7 5.1l0.6-5.4l0.7 3.5l0.6-3.3l0.6 3.9l0.7-6.2l0.6 6.5l0.7-11.8l0.6 3.1l0.7 4.4l0.6-1.2l0.7-5.3l0.6 8.9l0.7-15.8l0.6 10.3l0.7-9.2l0.6 10.9l0.7-9.2l0.7 8.3l0.6-6.6l0.7 2l0.7-4.8l0.6 6.1l0.7-9.7l0.7 3.3l0.7-2.4l0.7 2.5l0.6-3l0.7 3.3l0.7-6.5l0.7 7.3l0.7-5.9l0.7 2.5l0.7-3l0.7 3.2l0.7-9.3l0.7 8.8l0.8-6.4l0.7 5.3l0.7-8.4l0.7 5.1l0.7-7.2l0.8 6.6l0.7-4.4l0.7 5.5l0.8-9.2l0.7 3.9l0.7-3.7l0.8 7.6l0.7-6.8l0.8 5.7l0.7 1.6l0.8-7.1l0.7-2l0.8 4.3l0.7-4.9l0.8 4.7l0.7-2.2l0.8-2l0.7-7l0.8 6.6l0.7-6.4l0.8 4.7l0.8-4.6l0.7 8.4l0.8-5.6l0.7-2.1l0.8-2.6l0.8 4.5l0.7-5.1l0.8 7.2l0.8-3.7l0.8-1.3l0.7-6.1l0.8 4.7l0.8-0.4l0.8 2.1l0.8-5.5l0.8 4.9l0.8-6.6l0.7 4.4l0.8-8.3l0.8 6.9l0.8-6.2l0.8 7.6l0.8-6.7l0.8 2.7l0.8-6.6l0.8 5.9l0.8-5.4l0.8 8.6l0.8-7.6l0.8 3.4l0.9-7.8l0.8 7.5l0.8-3.7l0.8 5.5l0.8-6.6l0.8 1l0.8 4.1l0.9-0.2l0.8-5.5l0.8 1.7l0.9-4.3l0.8 7.4l0.8-6.5l0.9 3.2l0.8-4.3l0.8 2.7l0.9-6.9l0.8 11.8l0.9-8.5l0.8 5.3l0.8-6.7l0.9 4.8l0.8-7.3l0.9 8.3l0.8-6.2l0.9 0.1l0.8-3.8l0.8 8.4l0.9-7l0.8 6.4l0.9-7.5l0.8 7.3l0.8-7.9l0.9 4.6l0.8-2.8l0.8 1.8l0.9-7.4l0.8 9.3l0.8-8.7l0.8 5l0.9-3.8l0.8 6.5l0.8-9.3l0.9 9.2l0.8-11.2l0.8 9.3l0.8-7.4l0.9 0.6l0.8-0.9l0.8 1.6l0.9-2.3l0.8 0.2l0.8-0.2l0.9 2.1l0.8-2.7l0.9 7.6l0.8-13.4l0.8 11.9l0.9-12.6l0.8 12.1l0.9-8.1l0.8 7.7l0.9-7.1l0.8 2.7l0.9-6.5l0.8 4.7l0.9-3.6l0.8 5.8l0.9-5.5l0.9 4.5l0.8-5.8l0.9 3l0.8-5.2l0.9 8.9l0.9-5.4l0.8 6.6l0.9-6.8l0.9 4.2l0.8-3.6l0.9 4.4l0.9-7.9l0.8 6.2l0.9-9.5l0.9 8.8l0.8-3.4l0.9 0.5l0.9-6.7l0.9 6.3l0.8-7.2l0.9 3.1l0.9-3.4l0.8 7.6l0.9-1.5l0.9 0.3l0.9-4.6l0.9 0.2l0.9-5.1l0.8 11.8l0.9-5.1l0.9 3l0.9-4.9l0.9 2.5l0.9-6l0.9 4.2l0.9-1.1l0.8 2l0.9-0.1l0.9 3l0.9-5.4l0.9 5.7l0.9-5.6l0.9 3.1l0.9-2.9l0.9 4.8l0.9-6.9l0.9 4.7l0.8-8.1l0.9 5.4l0.9-7.1l0.9 10.8l0.9-5.5l0.9 1.8l0.9-5.1l0.8 10.6l0.9-11.9l0.9 6.5l0.9-4.6l0.9 4.2l0.9-4.6l0.9 6.1l0.8-6.8l0.9 8.8l0.9-7.8l0.9 4.5l0.9-4.8l0.9 0.8l0.9-6.4l0.8 11.8l0.9-8.5l0.9 5.5l0.9-3.6l0.9 2.7l0.9-4l0.9 8.9l0.9-6.9l0.9 0.7l0.9-0.7l0.9 0.5l0.8-6.1l0.9 11.3l0.9-9.6l0.9 6.7l0.9-4.8l0.9 5.8l0.9-3.7l0.9 2.1l0.9-4.8l0.9 0.8l0.9-3.1l0.9 6.8l0.9-3.8l0.9 4.2l0.9-1l1 0.9l0.9-5.1l0.9 6.1l0.9-8.5l0.9 7.7l0.9-4.5l0.9 1.8l0.9-2.9l0.8 2.7l0.9-4.2l0.9 10.9l0.9-9.6l0.9 5.1l0.9-3l0.9 0.1l0.9-0.8l0.9 6.3l0.9-4.6l0.9 6.6l0.9-7.8l0.9-1.2l0.9 3l0.9 1.3l0.9-4.7l0.9 6.1l0.9-4l0.9 0l0.9 0.8l0.9 2.9l0.9-5.6l0.9 5.1l0.9-5.8l0.9 7.1l0.9-4.4l0.9 7l0.9-8.6l0.8 9.1l0.9-11.1l0.8 5.4l0.8-4.9l0.9 11.2l0.8-5.9l0.8 5.6l0.8-2.8l0.8 5l0.8-9.4l0.8 5.6l0.7 1.2l0.8-0.5l0.8-2.2l0.7 7.3l0.8-6.5l0.7 8.6l0.8-10.8l0.7 5.6l0.7-0.6l0.7 3.7l0.8 0.5l0.7 7.1l0.7-11.3l0.7 8.9l0.6-5.7l0.7 7.5l0.7-0.9l0.7 3.1l0.6-3" fill="none" stroke="#0767de" stroke-width="6.2" stroke-linejoin="round" stroke-linecap="round"/>
<path d="M843.5 355.5l2 3.5l1.7 3.6l1.5 3.7l1.2 3.8l1.1 3.9l1 3.8l0.8 4l0.6 3.9l0.5 4l0.5 3.9l0.3 4l0.3 4l0.3 4l0.2 4l0.2 4l0.2 4l0.1 4l0.1 4l0.2 4l0.1 4l0.1 4l0.1 4l0.1 4l0.1 4l0.1 4l0 4l0.1 4l0 4l0 4l0.1 4l0 4l0 2.4l0 656" fill="none" stroke="#0767de" stroke-width="5.6" stroke-linejoin="round" stroke-linecap="round"/>
<path d="M860.3 1130.8l2-4.8l2 5.2l2-6.6l2 5.4l2-6.6l2 5.2l2-3.4l0.7 1.4" fill="none" stroke="#0767de" stroke-width="7.6" stroke-linejoin="round" stroke-linecap="round"/>
</g>
<g font-size="46.4"><text transform="translate(208.7 1218.9) scale(1 1.06)" text-anchor="middle">0.00</text><text transform="translate(404.0 1218.9) scale(1 1.06)" text-anchor="middle">0.01</text><text transform="translate(599.3 1218.9) scale(1 1.06)" text-anchor="middle">0.02</text><text transform="translate(794.6 1218.9) scale(1 1.06)" text-anchor="middle">0.03</text><text transform="translate(989.9 1218.9) scale(1 1.06)" text-anchor="middle">0.04</text><text transform="translate(1185.2 1218.9) scale(1 1.06)" text-anchor="middle">0.05</text><text transform="translate(1380.4 1218.9) scale(1 1.06)" text-anchor="middle">0.06</text><text transform="translate(1575.7 1218.9) scale(1 1.06)" text-anchor="middle">0.07</text><text transform="translate(171.8 1159.5) scale(1 1.06)" text-anchor="end">0</text><text transform="translate(171.8 1011.4) scale(1 1.06)" text-anchor="end">10</text><text transform="translate(171.8 863.2) scale(1 1.06)" text-anchor="end">20</text><text transform="translate(171.8 715.1) scale(1 1.06)" text-anchor="end">30</text><text transform="translate(171.8 567.0) scale(1 1.06)" text-anchor="end">40</text><text transform="translate(171.8 418.9) scale(1 1.06)" text-anchor="end">50</text><text transform="translate(171.8 270.7) scale(1 1.06)" text-anchor="end">60</text><text transform="translate(171.8 122.6) scale(1 1.06)" text-anchor="end">70</text></g>
<text transform="translate(892.6 1307.9) scale(1 1.02)" font-size="57.2" text-anchor="middle">Strain</text>
<text transform="translate(55.7 554) rotate(-90) scale(1 1.005)" font-size="58.5" text-anchor="middle">Stress (MPa)</text>
<rect x="571.0" y="35.6" width="647.0" height="71.5" fill="#4fd0f0" stroke="#000" stroke-width="2.7"/>
<text transform="translate(577.4 89.2) scale(1 1.03)" font-size="52.85">Nozzle Temperature 220°C</text>
<rect x="1350" y="938" width="222.5" height="201.3" fill="#000"/>
<rect x="1334.2" y="922.3" width="222.7" height="200.8" fill="#fff" stroke="#000" stroke-width="1.9"/>
<line x1="1341" y1="958.7" x2="1457.5" y2="958.7" stroke="#505050" stroke-width="10.9" stroke-linecap="round"/>
<text transform="translate(1549.6 976.3) scale(1 1.036)" font-size="52" text-anchor="end">0°</text>
<line x1="1341" y1="1023.1" x2="1457.5" y2="1023.1" stroke="#fd3c3c" stroke-width="10.9" stroke-linecap="round"/>
<text transform="translate(1549.6 1040.7) scale(1 1.036)" font-size="52" text-anchor="end">45°</text>
<line x1="1341" y1="1087.5" x2="1457.5" y2="1087.5" stroke="#0767de" stroke-width="10.9" stroke-linecap="round"/>
<text transform="translate(1549.6 1105.1) scale(1 1.036)" font-size="52" text-anchor="end">90°</text>
</svg>
</body></html>
